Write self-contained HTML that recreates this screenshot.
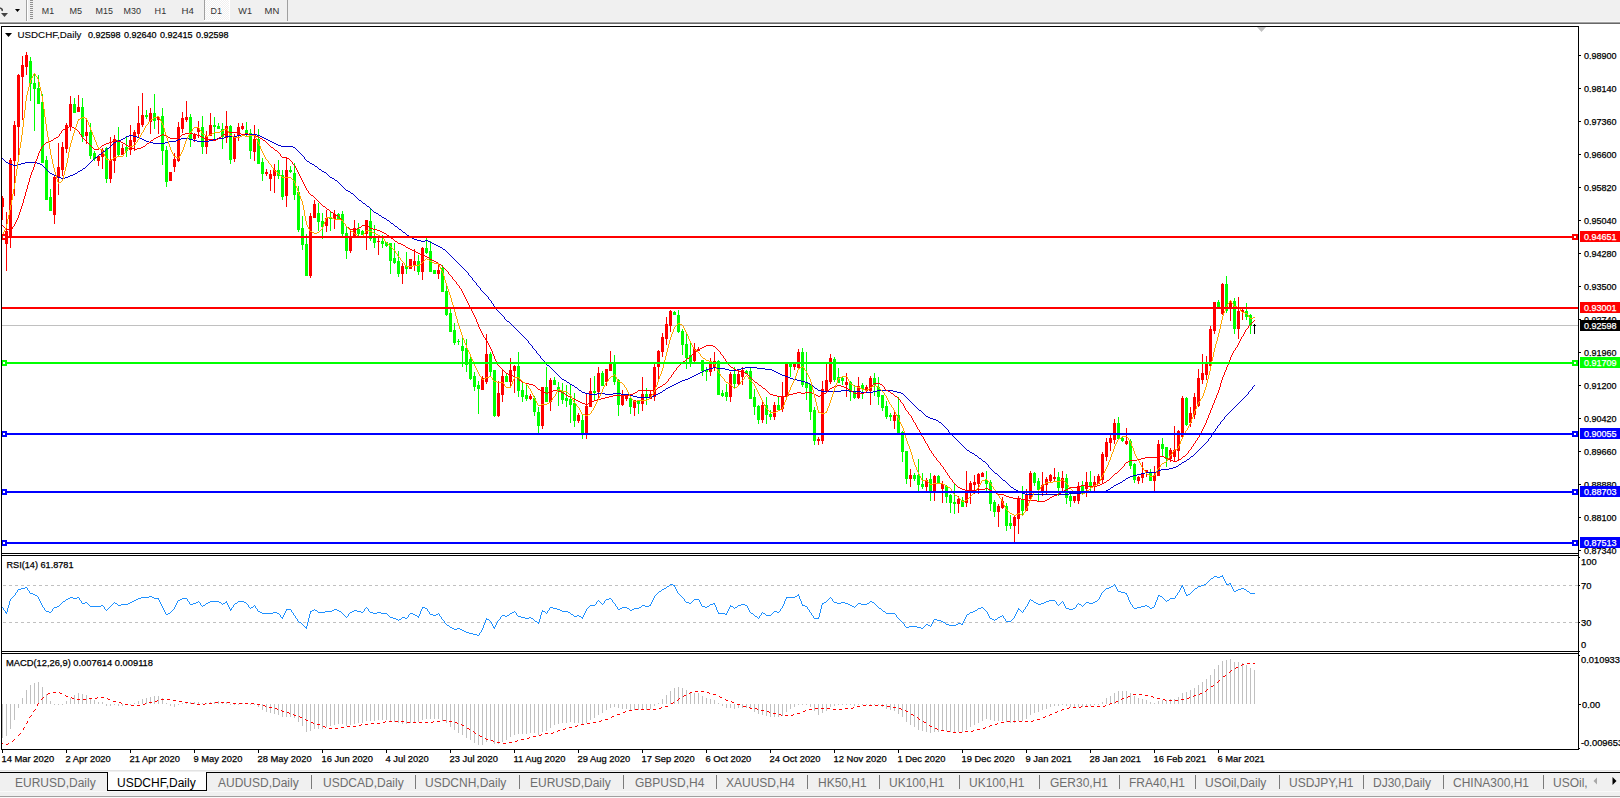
<!DOCTYPE html><html><head><meta charset="utf-8"><style>html,body{margin:0;padding:0;background:#fff;overflow:hidden}text{font-family:"Liberation Sans",sans-serif}</style></head><body><svg width="1620" height="798" viewBox="0 0 1620 798" style="display:block"><rect x="0" y="0" width="1620" height="21" fill="#f0f0f0"/><rect x="0" y="21" width="1620" height="1" fill="#f6f6f6"/><rect x="0" y="22" width="1620" height="1" fill="#a2a2a2"/><rect x="0" y="23" width="1620" height="1" fill="#686868"/><rect x="0" y="24" width="1620" height="746" fill="#ffffff"/><defs><clipPath id="cm"><rect x="2" y="27" width="1576" height="526"/></clipPath><clipPath id="cr"><rect x="2" y="556" width="1576" height="95"/></clipPath><clipPath id="cd"><rect x="2" y="654" width="1576" height="95"/></clipPath></defs><rect x="2" y="325" width="1576" height="1" fill="#c0c0c0" shape-rendering="crispEdges"/><g clip-path="url(#cm)" shape-rendering="crispEdges"><rect x="2" y="196" width="1" height="24" fill="#ff0000"/><rect x="1" y="198" width="3" height="9" fill="#ff0000"/><rect x="6" y="212" width="1" height="59" fill="#ff0000"/><rect x="5" y="231" width="3" height="13" fill="#ff0000"/><rect x="10" y="158" width="1" height="90" fill="#ff0000"/><rect x="9" y="160" width="3" height="77" fill="#ff0000"/><rect x="14" y="121" width="1" height="75" fill="#ff0000"/><rect x="13" y="125" width="3" height="36" fill="#ff0000"/><rect x="18" y="74" width="1" height="83" fill="#ff0000"/><rect x="17" y="75" width="3" height="52" fill="#ff0000"/><rect x="22" y="56" width="1" height="64" fill="#ff0000"/><rect x="21" y="65" width="3" height="12" fill="#ff0000"/><rect x="26" y="52" width="1" height="23" fill="#ff0000"/><rect x="25" y="55" width="3" height="12" fill="#ff0000"/><rect x="30" y="57" width="1" height="44" fill="#00ff00"/><rect x="29" y="61" width="3" height="23" fill="#00ff00"/><rect x="34" y="74" width="1" height="57" fill="#00ff00"/><rect x="33" y="83" width="3" height="6" fill="#00ff00"/><rect x="38" y="75" width="1" height="29" fill="#00ff00"/><rect x="37" y="88" width="3" height="16" fill="#00ff00"/><rect x="42" y="94" width="1" height="69" fill="#00ff00"/><rect x="41" y="102" width="3" height="61" fill="#00ff00"/><rect x="46" y="156" width="1" height="44" fill="#00ff00"/><rect x="45" y="160" width="3" height="40" fill="#00ff00"/><rect x="50" y="189" width="1" height="22" fill="#00ff00"/><rect x="49" y="197" width="3" height="14" fill="#00ff00"/><rect x="54" y="175" width="1" height="49" fill="#ff0000"/><rect x="53" y="177" width="3" height="38" fill="#ff0000"/><rect x="58" y="143" width="1" height="52" fill="#ff0000"/><rect x="57" y="167" width="3" height="11" fill="#ff0000"/><rect x="62" y="142" width="1" height="34" fill="#ff0000"/><rect x="61" y="147" width="3" height="23" fill="#ff0000"/><rect x="66" y="123" width="1" height="30" fill="#ff0000"/><rect x="65" y="125" width="3" height="24" fill="#ff0000"/><rect x="70" y="96" width="1" height="35" fill="#ff0000"/><rect x="69" y="104" width="3" height="23" fill="#ff0000"/><rect x="74" y="98" width="1" height="15" fill="#00ff00"/><rect x="73" y="104" width="3" height="9" fill="#00ff00"/><rect x="78" y="95" width="1" height="17" fill="#ff0000"/><rect x="77" y="107" width="3" height="5" fill="#ff0000"/><rect x="82" y="98" width="1" height="44" fill="#00ff00"/><rect x="81" y="107" width="3" height="30" fill="#00ff00"/><rect x="86" y="120" width="1" height="24" fill="#ff0000"/><rect x="85" y="132" width="3" height="4" fill="#ff0000"/><rect x="90" y="123" width="1" height="36" fill="#00ff00"/><rect x="89" y="132" width="3" height="24" fill="#00ff00"/><rect x="94" y="151" width="1" height="10" fill="#00ff00"/><rect x="93" y="153" width="3" height="6" fill="#00ff00"/><rect x="98" y="155" width="1" height="11" fill="#ff0000"/><rect x="97" y="156" width="3" height="5" fill="#ff0000"/><rect x="102" y="148" width="1" height="21" fill="#ff0000"/><rect x="101" y="150" width="3" height="7" fill="#ff0000"/><rect x="106" y="147" width="1" height="36" fill="#00ff00"/><rect x="105" y="148" width="3" height="31" fill="#00ff00"/><rect x="110" y="137" width="1" height="46" fill="#ff0000"/><rect x="109" y="160" width="3" height="19" fill="#ff0000"/><rect x="114" y="135" width="1" height="38" fill="#ff0000"/><rect x="113" y="139" width="3" height="22" fill="#ff0000"/><rect x="118" y="127" width="1" height="30" fill="#00ff00"/><rect x="117" y="140" width="3" height="15" fill="#00ff00"/><rect x="122" y="144" width="1" height="11" fill="#ff0000"/><rect x="121" y="148" width="3" height="7" fill="#ff0000"/><rect x="126" y="137" width="1" height="20" fill="#00ff00"/><rect x="125" y="147" width="3" height="4" fill="#00ff00"/><rect x="130" y="125" width="1" height="30" fill="#ff0000"/><rect x="129" y="140" width="3" height="10" fill="#ff0000"/><rect x="134" y="130" width="1" height="21" fill="#ff0000"/><rect x="133" y="132" width="3" height="10" fill="#ff0000"/><rect x="138" y="106" width="1" height="31" fill="#ff0000"/><rect x="137" y="123" width="3" height="11" fill="#ff0000"/><rect x="142" y="93" width="1" height="34" fill="#ff0000"/><rect x="141" y="115" width="3" height="10" fill="#ff0000"/><rect x="146" y="110" width="1" height="9" fill="#00ff00"/><rect x="145" y="115" width="3" height="2" fill="#00ff00"/><rect x="150" y="108" width="1" height="26" fill="#ff0000"/><rect x="149" y="113" width="3" height="9" fill="#ff0000"/><rect x="154" y="94" width="1" height="35" fill="#00ff00"/><rect x="153" y="113" width="3" height="8" fill="#00ff00"/><rect x="158" y="116" width="1" height="18" fill="#ff0000"/><rect x="157" y="117" width="3" height="3" fill="#ff0000"/><rect x="162" y="108" width="1" height="57" fill="#00ff00"/><rect x="161" y="116" width="3" height="35" fill="#00ff00"/><rect x="166" y="146" width="1" height="41" fill="#00ff00"/><rect x="165" y="150" width="3" height="32" fill="#00ff00"/><rect x="170" y="172" width="1" height="9" fill="#ff0000"/><rect x="169" y="172" width="3" height="9" fill="#ff0000"/><rect x="174" y="153" width="1" height="19" fill="#ff0000"/><rect x="173" y="159" width="3" height="8" fill="#ff0000"/><rect x="178" y="122" width="1" height="40" fill="#ff0000"/><rect x="177" y="127" width="3" height="34" fill="#ff0000"/><rect x="182" y="112" width="1" height="21" fill="#ff0000"/><rect x="181" y="118" width="3" height="11" fill="#ff0000"/><rect x="186" y="101" width="1" height="21" fill="#ff0000"/><rect x="185" y="117" width="3" height="3" fill="#ff0000"/><rect x="190" y="114" width="1" height="33" fill="#00ff00"/><rect x="189" y="117" width="3" height="22" fill="#00ff00"/><rect x="194" y="133" width="1" height="9" fill="#ff0000"/><rect x="193" y="134" width="3" height="5" fill="#ff0000"/><rect x="198" y="121" width="1" height="17" fill="#ff0000"/><rect x="197" y="128" width="3" height="4" fill="#ff0000"/><rect x="202" y="116" width="1" height="38" fill="#00ff00"/><rect x="201" y="127" width="3" height="20" fill="#00ff00"/><rect x="206" y="131" width="1" height="23" fill="#ff0000"/><rect x="205" y="136" width="3" height="11" fill="#ff0000"/><rect x="210" y="113" width="1" height="23" fill="#ff0000"/><rect x="209" y="125" width="3" height="11" fill="#ff0000"/><rect x="214" y="117" width="1" height="23" fill="#00ff00"/><rect x="213" y="125" width="3" height="2" fill="#00ff00"/><rect x="218" y="123" width="1" height="6" fill="#00ff00"/><rect x="217" y="126" width="3" height="3" fill="#00ff00"/><rect x="222" y="123" width="1" height="26" fill="#00ff00"/><rect x="221" y="129" width="3" height="8" fill="#00ff00"/><rect x="226" y="111" width="1" height="32" fill="#ff0000"/><rect x="225" y="126" width="3" height="12" fill="#ff0000"/><rect x="230" y="125" width="1" height="39" fill="#00ff00"/><rect x="229" y="126" width="3" height="34" fill="#00ff00"/><rect x="234" y="134" width="1" height="28" fill="#ff0000"/><rect x="233" y="136" width="3" height="23" fill="#ff0000"/><rect x="238" y="123" width="1" height="18" fill="#ff0000"/><rect x="237" y="127" width="3" height="8" fill="#ff0000"/><rect x="242" y="123" width="1" height="7" fill="#ff0000"/><rect x="241" y="126" width="3" height="3" fill="#ff0000"/><rect x="246" y="122" width="1" height="15" fill="#00ff00"/><rect x="245" y="130" width="3" height="4" fill="#00ff00"/><rect x="250" y="129" width="1" height="30" fill="#00ff00"/><rect x="249" y="133" width="3" height="18" fill="#00ff00"/><rect x="254" y="125" width="1" height="36" fill="#ff0000"/><rect x="253" y="139" width="3" height="13" fill="#ff0000"/><rect x="258" y="129" width="1" height="35" fill="#00ff00"/><rect x="257" y="139" width="3" height="25" fill="#00ff00"/><rect x="262" y="158" width="1" height="23" fill="#00ff00"/><rect x="261" y="162" width="3" height="12" fill="#00ff00"/><rect x="266" y="169" width="1" height="7" fill="#ff0000"/><rect x="265" y="172" width="3" height="2" fill="#ff0000"/><rect x="270" y="170" width="1" height="21" fill="#ff0000"/><rect x="269" y="174" width="3" height="5" fill="#ff0000"/><rect x="274" y="164" width="1" height="29" fill="#ff0000"/><rect x="273" y="170" width="3" height="6" fill="#ff0000"/><rect x="278" y="160" width="1" height="19" fill="#00ff00"/><rect x="277" y="170" width="3" height="6" fill="#00ff00"/><rect x="282" y="170" width="1" height="30" fill="#00ff00"/><rect x="281" y="175" width="3" height="22" fill="#00ff00"/><rect x="286" y="158" width="1" height="49" fill="#ff0000"/><rect x="285" y="170" width="3" height="26" fill="#ff0000"/><rect x="290" y="166" width="1" height="7" fill="#00ff00"/><rect x="289" y="170" width="3" height="2" fill="#00ff00"/><rect x="294" y="163" width="1" height="37" fill="#00ff00"/><rect x="293" y="173" width="3" height="22" fill="#00ff00"/><rect x="298" y="186" width="1" height="46" fill="#00ff00"/><rect x="297" y="192" width="3" height="38" fill="#00ff00"/><rect x="302" y="216" width="1" height="34" fill="#00ff00"/><rect x="301" y="228" width="3" height="17" fill="#00ff00"/><rect x="306" y="234" width="1" height="42" fill="#00ff00"/><rect x="305" y="244" width="3" height="32" fill="#00ff00"/><rect x="310" y="213" width="1" height="65" fill="#ff0000"/><rect x="309" y="216" width="3" height="60" fill="#ff0000"/><rect x="314" y="200" width="1" height="18" fill="#ff0000"/><rect x="313" y="204" width="3" height="14" fill="#ff0000"/><rect x="318" y="203" width="1" height="28" fill="#00ff00"/><rect x="317" y="213" width="3" height="9" fill="#00ff00"/><rect x="322" y="213" width="1" height="26" fill="#00ff00"/><rect x="321" y="221" width="3" height="6" fill="#00ff00"/><rect x="326" y="210" width="1" height="22" fill="#ff0000"/><rect x="325" y="218" width="3" height="8" fill="#ff0000"/><rect x="330" y="212" width="1" height="19" fill="#00ff00"/><rect x="329" y="218" width="3" height="1" fill="#00ff00"/><rect x="334" y="210" width="1" height="19" fill="#ff0000"/><rect x="333" y="214" width="3" height="5" fill="#ff0000"/><rect x="338" y="213" width="1" height="6" fill="#00ff00"/><rect x="337" y="214" width="3" height="5" fill="#00ff00"/><rect x="342" y="211" width="1" height="26" fill="#00ff00"/><rect x="341" y="214" width="3" height="20" fill="#00ff00"/><rect x="346" y="227" width="1" height="32" fill="#00ff00"/><rect x="345" y="233" width="3" height="18" fill="#00ff00"/><rect x="350" y="230" width="1" height="23" fill="#ff0000"/><rect x="349" y="236" width="3" height="15" fill="#ff0000"/><rect x="354" y="220" width="1" height="17" fill="#ff0000"/><rect x="353" y="228" width="3" height="9" fill="#ff0000"/><rect x="358" y="223" width="1" height="13" fill="#00ff00"/><rect x="357" y="229" width="3" height="5" fill="#00ff00"/><rect x="362" y="230" width="1" height="5" fill="#00ff00"/><rect x="361" y="231" width="3" height="4" fill="#00ff00"/><rect x="366" y="220" width="1" height="30" fill="#ff0000"/><rect x="365" y="220" width="3" height="14" fill="#ff0000"/><rect x="370" y="209" width="1" height="32" fill="#00ff00"/><rect x="369" y="221" width="3" height="18" fill="#00ff00"/><rect x="374" y="225" width="1" height="23" fill="#00ff00"/><rect x="373" y="236" width="3" height="7" fill="#00ff00"/><rect x="378" y="236" width="1" height="19" fill="#ff0000"/><rect x="377" y="241" width="3" height="1" fill="#ff0000"/><rect x="382" y="235" width="1" height="13" fill="#00ff00"/><rect x="381" y="241" width="3" height="3" fill="#00ff00"/><rect x="386" y="242" width="1" height="5" fill="#00ff00"/><rect x="385" y="242" width="3" height="4" fill="#00ff00"/><rect x="390" y="243" width="1" height="31" fill="#00ff00"/><rect x="389" y="243" width="3" height="18" fill="#00ff00"/><rect x="394" y="243" width="1" height="21" fill="#00ff00"/><rect x="393" y="258" width="3" height="5" fill="#00ff00"/><rect x="398" y="251" width="1" height="26" fill="#00ff00"/><rect x="397" y="261" width="3" height="13" fill="#00ff00"/><rect x="402" y="263" width="1" height="21" fill="#ff0000"/><rect x="401" y="266" width="3" height="8" fill="#ff0000"/><rect x="406" y="252" width="1" height="22" fill="#00ff00"/><rect x="405" y="266" width="3" height="3" fill="#00ff00"/><rect x="410" y="259" width="1" height="10" fill="#ff0000"/><rect x="409" y="259" width="3" height="10" fill="#ff0000"/><rect x="414" y="249" width="1" height="22" fill="#ff0000"/><rect x="413" y="261" width="3" height="5" fill="#ff0000"/><rect x="418" y="255" width="1" height="20" fill="#00ff00"/><rect x="417" y="261" width="3" height="11" fill="#00ff00"/><rect x="422" y="247" width="1" height="33" fill="#ff0000"/><rect x="421" y="248" width="3" height="24" fill="#ff0000"/><rect x="426" y="238" width="1" height="16" fill="#00ff00"/><rect x="425" y="248" width="3" height="5" fill="#00ff00"/><rect x="430" y="241" width="1" height="31" fill="#00ff00"/><rect x="429" y="251" width="3" height="21" fill="#00ff00"/><rect x="434" y="270" width="1" height="4" fill="#00ff00"/><rect x="433" y="270" width="3" height="4" fill="#00ff00"/><rect x="438" y="263" width="1" height="16" fill="#ff0000"/><rect x="437" y="270" width="3" height="4" fill="#ff0000"/><rect x="442" y="265" width="1" height="27" fill="#00ff00"/><rect x="441" y="268" width="3" height="24" fill="#00ff00"/><rect x="446" y="286" width="1" height="30" fill="#00ff00"/><rect x="445" y="291" width="3" height="24" fill="#00ff00"/><rect x="450" y="309" width="1" height="23" fill="#00ff00"/><rect x="449" y="313" width="3" height="19" fill="#00ff00"/><rect x="454" y="323" width="1" height="22" fill="#00ff00"/><rect x="453" y="330" width="3" height="13" fill="#00ff00"/><rect x="458" y="339" width="1" height="6" fill="#00ff00"/><rect x="457" y="341" width="3" height="1" fill="#00ff00"/><rect x="462" y="338" width="1" height="29" fill="#00ff00"/><rect x="461" y="346" width="3" height="5" fill="#00ff00"/><rect x="466" y="339" width="1" height="33" fill="#00ff00"/><rect x="465" y="348" width="3" height="17" fill="#00ff00"/><rect x="470" y="356" width="1" height="24" fill="#00ff00"/><rect x="469" y="359" width="3" height="20" fill="#00ff00"/><rect x="474" y="372" width="1" height="19" fill="#00ff00"/><rect x="473" y="376" width="3" height="11" fill="#00ff00"/><rect x="478" y="381" width="1" height="33" fill="#00ff00"/><rect x="477" y="385" width="3" height="4" fill="#00ff00"/><rect x="482" y="376" width="1" height="14" fill="#ff0000"/><rect x="481" y="378" width="3" height="12" fill="#ff0000"/><rect x="486" y="334" width="1" height="50" fill="#ff0000"/><rect x="485" y="354" width="3" height="28" fill="#ff0000"/><rect x="490" y="352" width="1" height="24" fill="#00ff00"/><rect x="489" y="354" width="3" height="18" fill="#00ff00"/><rect x="494" y="370" width="1" height="47" fill="#00ff00"/><rect x="493" y="370" width="3" height="46" fill="#00ff00"/><rect x="498" y="381" width="1" height="36" fill="#ff0000"/><rect x="497" y="393" width="3" height="23" fill="#ff0000"/><rect x="502" y="370" width="1" height="32" fill="#ff0000"/><rect x="501" y="376" width="3" height="19" fill="#ff0000"/><rect x="506" y="373" width="1" height="9" fill="#00ff00"/><rect x="505" y="376" width="3" height="6" fill="#00ff00"/><rect x="510" y="358" width="1" height="28" fill="#ff0000"/><rect x="509" y="370" width="3" height="12" fill="#ff0000"/><rect x="514" y="365" width="1" height="28" fill="#ff0000"/><rect x="513" y="366" width="3" height="5" fill="#ff0000"/><rect x="518" y="352" width="1" height="45" fill="#00ff00"/><rect x="517" y="366" width="3" height="25" fill="#00ff00"/><rect x="522" y="383" width="1" height="19" fill="#00ff00"/><rect x="521" y="390" width="3" height="7" fill="#00ff00"/><rect x="526" y="384" width="1" height="17" fill="#00ff00"/><rect x="525" y="395" width="3" height="4" fill="#00ff00"/><rect x="530" y="394" width="1" height="6" fill="#ff0000"/><rect x="529" y="396" width="3" height="3" fill="#ff0000"/><rect x="534" y="396" width="1" height="20" fill="#00ff00"/><rect x="533" y="398" width="3" height="14" fill="#00ff00"/><rect x="538" y="407" width="1" height="27" fill="#00ff00"/><rect x="537" y="412" width="3" height="14" fill="#00ff00"/><rect x="542" y="387" width="1" height="42" fill="#ff0000"/><rect x="541" y="387" width="3" height="39" fill="#ff0000"/><rect x="546" y="367" width="1" height="35" fill="#00ff00"/><rect x="545" y="387" width="3" height="15" fill="#00ff00"/><rect x="550" y="378" width="1" height="33" fill="#ff0000"/><rect x="549" y="380" width="3" height="22" fill="#ff0000"/><rect x="554" y="377" width="1" height="8" fill="#00ff00"/><rect x="553" y="380" width="3" height="5" fill="#00ff00"/><rect x="558" y="382" width="1" height="24" fill="#00ff00"/><rect x="557" y="387" width="3" height="4" fill="#00ff00"/><rect x="562" y="383" width="1" height="21" fill="#00ff00"/><rect x="561" y="391" width="3" height="9" fill="#00ff00"/><rect x="566" y="385" width="1" height="22" fill="#00ff00"/><rect x="565" y="398" width="3" height="3" fill="#00ff00"/><rect x="570" y="384" width="1" height="39" fill="#00ff00"/><rect x="569" y="399" width="3" height="6" fill="#00ff00"/><rect x="574" y="393" width="1" height="34" fill="#00ff00"/><rect x="573" y="403" width="3" height="18" fill="#00ff00"/><rect x="578" y="413" width="1" height="10" fill="#ff0000"/><rect x="577" y="415" width="3" height="6" fill="#ff0000"/><rect x="582" y="415" width="1" height="24" fill="#00ff00"/><rect x="581" y="420" width="3" height="13" fill="#00ff00"/><rect x="586" y="394" width="1" height="45" fill="#ff0000"/><rect x="585" y="406" width="3" height="27" fill="#ff0000"/><rect x="590" y="378" width="1" height="29" fill="#ff0000"/><rect x="589" y="391" width="3" height="16" fill="#ff0000"/><rect x="594" y="376" width="1" height="25" fill="#00ff00"/><rect x="593" y="391" width="3" height="2" fill="#00ff00"/><rect x="598" y="367" width="1" height="32" fill="#ff0000"/><rect x="597" y="373" width="3" height="19" fill="#ff0000"/><rect x="602" y="371" width="1" height="15" fill="#00ff00"/><rect x="601" y="373" width="3" height="13" fill="#00ff00"/><rect x="606" y="369" width="1" height="17" fill="#ff0000"/><rect x="605" y="369" width="3" height="13" fill="#ff0000"/><rect x="610" y="351" width="1" height="20" fill="#ff0000"/><rect x="609" y="364" width="3" height="7" fill="#ff0000"/><rect x="614" y="355" width="1" height="30" fill="#00ff00"/><rect x="613" y="364" width="3" height="18" fill="#00ff00"/><rect x="618" y="379" width="1" height="37" fill="#00ff00"/><rect x="617" y="380" width="3" height="25" fill="#00ff00"/><rect x="622" y="390" width="1" height="16" fill="#ff0000"/><rect x="621" y="396" width="3" height="9" fill="#ff0000"/><rect x="626" y="395" width="1" height="6" fill="#ff0000"/><rect x="625" y="396" width="3" height="3" fill="#ff0000"/><rect x="630" y="396" width="1" height="18" fill="#00ff00"/><rect x="629" y="398" width="3" height="9" fill="#00ff00"/><rect x="634" y="400" width="1" height="16" fill="#ff0000"/><rect x="633" y="400" width="3" height="8" fill="#ff0000"/><rect x="638" y="400" width="1" height="14" fill="#00ff00"/><rect x="637" y="401" width="3" height="3" fill="#00ff00"/><rect x="642" y="377" width="1" height="34" fill="#ff0000"/><rect x="641" y="394" width="3" height="10" fill="#ff0000"/><rect x="646" y="388" width="1" height="17" fill="#00ff00"/><rect x="645" y="394" width="3" height="3" fill="#00ff00"/><rect x="650" y="390" width="1" height="9" fill="#ff0000"/><rect x="649" y="394" width="3" height="5" fill="#ff0000"/><rect x="654" y="364" width="1" height="37" fill="#ff0000"/><rect x="653" y="367" width="3" height="30" fill="#ff0000"/><rect x="658" y="350" width="1" height="30" fill="#ff0000"/><rect x="657" y="351" width="3" height="16" fill="#ff0000"/><rect x="662" y="333" width="1" height="24" fill="#ff0000"/><rect x="661" y="337" width="3" height="15" fill="#ff0000"/><rect x="666" y="317" width="1" height="28" fill="#ff0000"/><rect x="665" y="324" width="3" height="15" fill="#ff0000"/><rect x="670" y="310" width="1" height="22" fill="#ff0000"/><rect x="669" y="311" width="3" height="15" fill="#ff0000"/><rect x="674" y="311" width="1" height="4" fill="#00ff00"/><rect x="673" y="312" width="3" height="3" fill="#00ff00"/><rect x="678" y="310" width="1" height="23" fill="#00ff00"/><rect x="677" y="315" width="3" height="17" fill="#00ff00"/><rect x="682" y="329" width="1" height="26" fill="#00ff00"/><rect x="681" y="331" width="3" height="14" fill="#00ff00"/><rect x="686" y="333" width="1" height="36" fill="#00ff00"/><rect x="685" y="344" width="3" height="14" fill="#00ff00"/><rect x="690" y="342" width="1" height="25" fill="#00ff00"/><rect x="689" y="355" width="3" height="7" fill="#00ff00"/><rect x="694" y="343" width="1" height="19" fill="#ff0000"/><rect x="693" y="349" width="3" height="12" fill="#ff0000"/><rect x="698" y="347" width="1" height="4" fill="#ff0000"/><rect x="697" y="349" width="3" height="2" fill="#ff0000"/><rect x="702" y="360" width="1" height="16" fill="#00ff00"/><rect x="701" y="360" width="3" height="11" fill="#00ff00"/><rect x="706" y="367" width="1" height="14" fill="#00ff00"/><rect x="705" y="370" width="3" height="2" fill="#00ff00"/><rect x="710" y="358" width="1" height="18" fill="#ff0000"/><rect x="709" y="364" width="3" height="8" fill="#ff0000"/><rect x="714" y="352" width="1" height="19" fill="#ff0000"/><rect x="713" y="361" width="3" height="6" fill="#ff0000"/><rect x="718" y="360" width="1" height="35" fill="#00ff00"/><rect x="717" y="361" width="3" height="34" fill="#00ff00"/><rect x="722" y="390" width="1" height="7" fill="#00ff00"/><rect x="721" y="393" width="3" height="3" fill="#00ff00"/><rect x="726" y="384" width="1" height="17" fill="#00ff00"/><rect x="725" y="392" width="3" height="5" fill="#00ff00"/><rect x="730" y="372" width="1" height="30" fill="#ff0000"/><rect x="729" y="374" width="3" height="23" fill="#ff0000"/><rect x="734" y="367" width="1" height="22" fill="#00ff00"/><rect x="733" y="374" width="3" height="10" fill="#00ff00"/><rect x="738" y="370" width="1" height="15" fill="#ff0000"/><rect x="737" y="374" width="3" height="10" fill="#ff0000"/><rect x="742" y="367" width="1" height="18" fill="#ff0000"/><rect x="741" y="370" width="3" height="7" fill="#ff0000"/><rect x="746" y="370" width="1" height="4" fill="#00ff00"/><rect x="745" y="371" width="3" height="3" fill="#00ff00"/><rect x="750" y="367" width="1" height="32" fill="#00ff00"/><rect x="749" y="371" width="3" height="28" fill="#00ff00"/><rect x="754" y="389" width="1" height="26" fill="#00ff00"/><rect x="753" y="397" width="3" height="10" fill="#00ff00"/><rect x="758" y="405" width="1" height="19" fill="#00ff00"/><rect x="757" y="406" width="3" height="14" fill="#00ff00"/><rect x="762" y="402" width="1" height="21" fill="#ff0000"/><rect x="761" y="405" width="3" height="15" fill="#ff0000"/><rect x="766" y="397" width="1" height="27" fill="#00ff00"/><rect x="765" y="405" width="3" height="10" fill="#00ff00"/><rect x="770" y="410" width="1" height="10" fill="#00ff00"/><rect x="769" y="414" width="3" height="3" fill="#00ff00"/><rect x="774" y="402" width="1" height="18" fill="#ff0000"/><rect x="773" y="405" width="3" height="12" fill="#ff0000"/><rect x="778" y="396" width="1" height="15" fill="#00ff00"/><rect x="777" y="405" width="3" height="5" fill="#00ff00"/><rect x="782" y="382" width="1" height="30" fill="#ff0000"/><rect x="781" y="396" width="3" height="13" fill="#ff0000"/><rect x="786" y="364" width="1" height="33" fill="#ff0000"/><rect x="785" y="364" width="3" height="33" fill="#ff0000"/><rect x="790" y="363" width="1" height="14" fill="#00ff00"/><rect x="789" y="364" width="3" height="3" fill="#00ff00"/><rect x="794" y="363" width="1" height="7" fill="#ff0000"/><rect x="793" y="364" width="3" height="3" fill="#ff0000"/><rect x="798" y="349" width="1" height="19" fill="#ff0000"/><rect x="797" y="352" width="3" height="16" fill="#ff0000"/><rect x="802" y="348" width="1" height="39" fill="#00ff00"/><rect x="801" y="352" width="3" height="33" fill="#00ff00"/><rect x="806" y="352" width="1" height="48" fill="#00ff00"/><rect x="805" y="382" width="3" height="6" fill="#00ff00"/><rect x="810" y="384" width="1" height="36" fill="#00ff00"/><rect x="809" y="384" width="3" height="28" fill="#00ff00"/><rect x="814" y="407" width="1" height="38" fill="#00ff00"/><rect x="813" y="410" width="3" height="31" fill="#00ff00"/><rect x="818" y="437" width="1" height="8" fill="#ff0000"/><rect x="817" y="439" width="3" height="2" fill="#ff0000"/><rect x="822" y="381" width="1" height="63" fill="#ff0000"/><rect x="821" y="389" width="3" height="52" fill="#ff0000"/><rect x="826" y="364" width="1" height="27" fill="#ff0000"/><rect x="825" y="380" width="3" height="11" fill="#ff0000"/><rect x="830" y="354" width="1" height="30" fill="#ff0000"/><rect x="829" y="358" width="3" height="24" fill="#ff0000"/><rect x="834" y="357" width="1" height="25" fill="#00ff00"/><rect x="833" y="359" width="3" height="21" fill="#00ff00"/><rect x="838" y="368" width="1" height="15" fill="#00ff00"/><rect x="837" y="377" width="3" height="6" fill="#00ff00"/><rect x="842" y="377" width="1" height="8" fill="#00ff00"/><rect x="841" y="378" width="3" height="3" fill="#00ff00"/><rect x="846" y="373" width="1" height="24" fill="#ff0000"/><rect x="845" y="382" width="3" height="3" fill="#ff0000"/><rect x="850" y="381" width="1" height="20" fill="#00ff00"/><rect x="849" y="382" width="3" height="10" fill="#00ff00"/><rect x="854" y="385" width="1" height="14" fill="#00ff00"/><rect x="853" y="391" width="3" height="7" fill="#00ff00"/><rect x="858" y="377" width="1" height="22" fill="#ff0000"/><rect x="857" y="386" width="3" height="12" fill="#ff0000"/><rect x="862" y="383" width="1" height="16" fill="#00ff00"/><rect x="861" y="385" width="3" height="4" fill="#00ff00"/><rect x="866" y="385" width="1" height="6" fill="#ff0000"/><rect x="865" y="387" width="3" height="3" fill="#ff0000"/><rect x="870" y="376" width="1" height="29" fill="#ff0000"/><rect x="869" y="378" width="3" height="13" fill="#ff0000"/><rect x="874" y="373" width="1" height="23" fill="#00ff00"/><rect x="873" y="378" width="3" height="7" fill="#00ff00"/><rect x="878" y="377" width="1" height="28" fill="#00ff00"/><rect x="877" y="387" width="3" height="10" fill="#00ff00"/><rect x="882" y="395" width="1" height="16" fill="#00ff00"/><rect x="881" y="395" width="3" height="13" fill="#00ff00"/><rect x="886" y="401" width="1" height="18" fill="#00ff00"/><rect x="885" y="406" width="3" height="11" fill="#00ff00"/><rect x="890" y="413" width="1" height="8" fill="#00ff00"/><rect x="889" y="415" width="3" height="2" fill="#00ff00"/><rect x="894" y="410" width="1" height="19" fill="#ff0000"/><rect x="893" y="415" width="3" height="6" fill="#ff0000"/><rect x="898" y="397" width="1" height="37" fill="#00ff00"/><rect x="897" y="415" width="3" height="19" fill="#00ff00"/><rect x="902" y="431" width="1" height="31" fill="#00ff00"/><rect x="901" y="432" width="3" height="20" fill="#00ff00"/><rect x="906" y="451" width="1" height="33" fill="#00ff00"/><rect x="905" y="451" width="3" height="28" fill="#00ff00"/><rect x="910" y="469" width="1" height="18" fill="#ff0000"/><rect x="909" y="475" width="3" height="4" fill="#ff0000"/><rect x="914" y="473" width="1" height="8" fill="#00ff00"/><rect x="913" y="475" width="3" height="4" fill="#00ff00"/><rect x="918" y="459" width="1" height="32" fill="#00ff00"/><rect x="917" y="475" width="3" height="10" fill="#00ff00"/><rect x="922" y="473" width="1" height="16" fill="#00ff00"/><rect x="921" y="484" width="3" height="3" fill="#00ff00"/><rect x="926" y="478" width="1" height="14" fill="#ff0000"/><rect x="925" y="480" width="3" height="7" fill="#ff0000"/><rect x="930" y="473" width="1" height="28" fill="#00ff00"/><rect x="929" y="479" width="3" height="13" fill="#00ff00"/><rect x="934" y="475" width="1" height="26" fill="#ff0000"/><rect x="933" y="476" width="3" height="16" fill="#ff0000"/><rect x="938" y="475" width="1" height="8" fill="#00ff00"/><rect x="937" y="476" width="3" height="7" fill="#00ff00"/><rect x="942" y="481" width="1" height="22" fill="#ff0000"/><rect x="941" y="484" width="3" height="5" fill="#ff0000"/><rect x="946" y="485" width="1" height="18" fill="#00ff00"/><rect x="945" y="486" width="3" height="11" fill="#00ff00"/><rect x="950" y="494" width="1" height="19" fill="#00ff00"/><rect x="949" y="495" width="3" height="8" fill="#00ff00"/><rect x="954" y="484" width="1" height="30" fill="#00ff00"/><rect x="953" y="502" width="3" height="2" fill="#00ff00"/><rect x="958" y="496" width="1" height="17" fill="#ff0000"/><rect x="957" y="499" width="3" height="5" fill="#ff0000"/><rect x="962" y="497" width="1" height="10" fill="#00ff00"/><rect x="961" y="500" width="3" height="7" fill="#00ff00"/><rect x="966" y="471" width="1" height="36" fill="#ff0000"/><rect x="965" y="490" width="3" height="13" fill="#ff0000"/><rect x="970" y="481" width="1" height="23" fill="#ff0000"/><rect x="969" y="483" width="3" height="9" fill="#ff0000"/><rect x="974" y="475" width="1" height="19" fill="#ff0000"/><rect x="973" y="482" width="3" height="3" fill="#ff0000"/><rect x="978" y="473" width="1" height="21" fill="#ff0000"/><rect x="977" y="474" width="3" height="10" fill="#ff0000"/><rect x="982" y="472" width="1" height="5" fill="#ff0000"/><rect x="981" y="473" width="3" height="4" fill="#ff0000"/><rect x="986" y="471" width="1" height="20" fill="#00ff00"/><rect x="985" y="480" width="3" height="4" fill="#00ff00"/><rect x="990" y="480" width="1" height="31" fill="#00ff00"/><rect x="989" y="482" width="3" height="22" fill="#00ff00"/><rect x="994" y="500" width="1" height="17" fill="#00ff00"/><rect x="993" y="502" width="3" height="10" fill="#00ff00"/><rect x="998" y="504" width="1" height="23" fill="#ff0000"/><rect x="997" y="506" width="3" height="6" fill="#ff0000"/><rect x="1002" y="497" width="1" height="12" fill="#ff0000"/><rect x="1001" y="501" width="3" height="7" fill="#ff0000"/><rect x="1006" y="503" width="1" height="28" fill="#00ff00"/><rect x="1005" y="506" width="3" height="20" fill="#00ff00"/><rect x="1010" y="515" width="1" height="14" fill="#00ff00"/><rect x="1009" y="523" width="3" height="3" fill="#00ff00"/><rect x="1014" y="516" width="1" height="26" fill="#ff0000"/><rect x="1013" y="517" width="3" height="9" fill="#ff0000"/><rect x="1018" y="496" width="1" height="38" fill="#ff0000"/><rect x="1017" y="498" width="3" height="21" fill="#ff0000"/><rect x="1022" y="486" width="1" height="29" fill="#00ff00"/><rect x="1021" y="500" width="3" height="11" fill="#00ff00"/><rect x="1026" y="489" width="1" height="22" fill="#ff0000"/><rect x="1025" y="494" width="3" height="17" fill="#ff0000"/><rect x="1030" y="471" width="1" height="28" fill="#ff0000"/><rect x="1029" y="473" width="3" height="26" fill="#ff0000"/><rect x="1034" y="472" width="1" height="14" fill="#00ff00"/><rect x="1033" y="473" width="3" height="10" fill="#00ff00"/><rect x="1038" y="478" width="1" height="24" fill="#00ff00"/><rect x="1037" y="481" width="3" height="9" fill="#00ff00"/><rect x="1042" y="472" width="1" height="24" fill="#ff0000"/><rect x="1041" y="485" width="3" height="6" fill="#ff0000"/><rect x="1046" y="477" width="1" height="18" fill="#ff0000"/><rect x="1045" y="479" width="3" height="6" fill="#ff0000"/><rect x="1050" y="474" width="1" height="9" fill="#ff0000"/><rect x="1049" y="475" width="3" height="6" fill="#ff0000"/><rect x="1054" y="468" width="1" height="13" fill="#ff0000"/><rect x="1053" y="477" width="3" height="2" fill="#ff0000"/><rect x="1058" y="472" width="1" height="24" fill="#00ff00"/><rect x="1057" y="477" width="3" height="11" fill="#00ff00"/><rect x="1062" y="471" width="1" height="21" fill="#ff0000"/><rect x="1061" y="478" width="3" height="10" fill="#ff0000"/><rect x="1066" y="474" width="1" height="30" fill="#00ff00"/><rect x="1065" y="478" width="3" height="20" fill="#00ff00"/><rect x="1070" y="493" width="1" height="14" fill="#00ff00"/><rect x="1069" y="496" width="3" height="5" fill="#00ff00"/><rect x="1074" y="496" width="1" height="7" fill="#ff0000"/><rect x="1073" y="496" width="3" height="5" fill="#ff0000"/><rect x="1078" y="482" width="1" height="22" fill="#ff0000"/><rect x="1077" y="486" width="3" height="15" fill="#ff0000"/><rect x="1082" y="481" width="1" height="13" fill="#00ff00"/><rect x="1081" y="486" width="3" height="6" fill="#00ff00"/><rect x="1086" y="472" width="1" height="25" fill="#ff0000"/><rect x="1085" y="482" width="3" height="7" fill="#ff0000"/><rect x="1090" y="471" width="1" height="21" fill="#00ff00"/><rect x="1089" y="482" width="3" height="4" fill="#00ff00"/><rect x="1094" y="476" width="1" height="16" fill="#ff0000"/><rect x="1093" y="482" width="3" height="5" fill="#ff0000"/><rect x="1098" y="474" width="1" height="10" fill="#ff0000"/><rect x="1097" y="476" width="3" height="8" fill="#ff0000"/><rect x="1102" y="452" width="1" height="32" fill="#ff0000"/><rect x="1101" y="454" width="3" height="26" fill="#ff0000"/><rect x="1106" y="438" width="1" height="23" fill="#ff0000"/><rect x="1105" y="442" width="3" height="15" fill="#ff0000"/><rect x="1110" y="435" width="1" height="16" fill="#ff0000"/><rect x="1109" y="438" width="3" height="5" fill="#ff0000"/><rect x="1114" y="419" width="1" height="25" fill="#ff0000"/><rect x="1113" y="423" width="3" height="17" fill="#ff0000"/><rect x="1118" y="417" width="1" height="22" fill="#00ff00"/><rect x="1117" y="423" width="3" height="16" fill="#00ff00"/><rect x="1122" y="436" width="1" height="6" fill="#00ff00"/><rect x="1121" y="438" width="3" height="3" fill="#00ff00"/><rect x="1126" y="428" width="1" height="17" fill="#ff0000"/><rect x="1125" y="441" width="3" height="3" fill="#ff0000"/><rect x="1130" y="439" width="1" height="30" fill="#00ff00"/><rect x="1129" y="441" width="3" height="25" fill="#00ff00"/><rect x="1134" y="463" width="1" height="20" fill="#00ff00"/><rect x="1133" y="464" width="3" height="16" fill="#00ff00"/><rect x="1138" y="476" width="1" height="8" fill="#ff0000"/><rect x="1137" y="477" width="3" height="4" fill="#ff0000"/><rect x="1142" y="462" width="1" height="21" fill="#ff0000"/><rect x="1141" y="473" width="3" height="5" fill="#ff0000"/><rect x="1146" y="470" width="1" height="7" fill="#ff0000"/><rect x="1145" y="470" width="3" height="3" fill="#ff0000"/><rect x="1150" y="469" width="1" height="12" fill="#00ff00"/><rect x="1149" y="472" width="3" height="9" fill="#00ff00"/><rect x="1154" y="466" width="1" height="26" fill="#ff0000"/><rect x="1153" y="475" width="3" height="6" fill="#ff0000"/><rect x="1158" y="440" width="1" height="36" fill="#ff0000"/><rect x="1157" y="444" width="3" height="32" fill="#ff0000"/><rect x="1162" y="438" width="1" height="19" fill="#00ff00"/><rect x="1161" y="444" width="3" height="5" fill="#00ff00"/><rect x="1166" y="447" width="1" height="20" fill="#00ff00"/><rect x="1165" y="447" width="3" height="12" fill="#00ff00"/><rect x="1170" y="448" width="1" height="14" fill="#ff0000"/><rect x="1169" y="450" width="3" height="9" fill="#ff0000"/><rect x="1174" y="426" width="1" height="35" fill="#ff0000"/><rect x="1173" y="450" width="3" height="7" fill="#ff0000"/><rect x="1178" y="430" width="1" height="30" fill="#ff0000"/><rect x="1177" y="431" width="3" height="20" fill="#ff0000"/><rect x="1182" y="396" width="1" height="43" fill="#ff0000"/><rect x="1181" y="398" width="3" height="39" fill="#ff0000"/><rect x="1186" y="397" width="1" height="29" fill="#00ff00"/><rect x="1185" y="398" width="3" height="27" fill="#00ff00"/><rect x="1190" y="407" width="1" height="20" fill="#ff0000"/><rect x="1189" y="413" width="3" height="10" fill="#ff0000"/><rect x="1194" y="393" width="1" height="26" fill="#ff0000"/><rect x="1193" y="397" width="3" height="18" fill="#ff0000"/><rect x="1198" y="369" width="1" height="38" fill="#ff0000"/><rect x="1197" y="378" width="3" height="28" fill="#ff0000"/><rect x="1202" y="354" width="1" height="30" fill="#ff0000"/><rect x="1201" y="373" width="3" height="7" fill="#ff0000"/><rect x="1206" y="356" width="1" height="24" fill="#ff0000"/><rect x="1205" y="364" width="3" height="11" fill="#ff0000"/><rect x="1210" y="326" width="1" height="41" fill="#ff0000"/><rect x="1209" y="329" width="3" height="37" fill="#ff0000"/><rect x="1214" y="302" width="1" height="32" fill="#ff0000"/><rect x="1213" y="302" width="3" height="29" fill="#ff0000"/><rect x="1218" y="300" width="1" height="8" fill="#00ff00"/><rect x="1217" y="302" width="3" height="5" fill="#00ff00"/><rect x="1222" y="283" width="1" height="32" fill="#ff0000"/><rect x="1221" y="284" width="3" height="30" fill="#ff0000"/><rect x="1226" y="276" width="1" height="37" fill="#00ff00"/><rect x="1225" y="284" width="3" height="27" fill="#00ff00"/><rect x="1230" y="301" width="1" height="20" fill="#ff0000"/><rect x="1229" y="301" width="3" height="8" fill="#ff0000"/><rect x="1234" y="298" width="1" height="36" fill="#00ff00"/><rect x="1233" y="301" width="3" height="28" fill="#00ff00"/><rect x="1238" y="297" width="1" height="42" fill="#ff0000"/><rect x="1237" y="311" width="3" height="18" fill="#ff0000"/><rect x="1242" y="309" width="1" height="11" fill="#ff0000"/><rect x="1241" y="310" width="3" height="2" fill="#ff0000"/><rect x="1246" y="303" width="1" height="17" fill="#00ff00"/><rect x="1245" y="311" width="3" height="6" fill="#00ff00"/><rect x="1250" y="314" width="1" height="20" fill="#00ff00"/><rect x="1249" y="315" width="3" height="11" fill="#00ff00"/><rect x="1254" y="324" width="1" height="10" fill="#000000"/><rect x="1253" y="325" width="3" height="1" fill="#000000"/></g><path d="M821 391h20v1h-20zM849 391h12v1h-12zM873 391h4v1h-4zM893 391h4v1h-4zM1145 472h11v1h-11zM692 376h2v1h-2zM785 376h3v1h-3zM95 157h2v1h-2zM126 136h3v1h-3zM133 136h4v1h-4zM226 136h11v1h-11zM260 136h2v1h-2zM1022 493h3v1h-3zM1069 493h12v1h-12zM585 393h4v1h-4zM597 393h8v1h-8zM613 393h8v1h-8zM658 393h2v1h-2zM901 393h2v1h-2zM1176 466h2v1h-2zM572 385h2v1h-2zM672 385h2v1h-2zM811 385h2v1h-2zM1137 474h4v1h-4zM123 138h2v1h-2zM140 138h2v1h-2zM181 138h8v1h-8zM217 138h7v1h-7zM264 138h2v1h-2zM1182 462h2v1h-2zM1169 468h4v1h-4zM421 241h4v1h-4zM428 241h2v1h-2zM582 392h3v1h-3zM660 392h2v1h-2zM861 392h12v1h-12zM897 392h4v1h-4zM1161 469h8v1h-8zM930 418h3v1h-3zM116 141h2v1h-2zM146 141h3v1h-3zM169 141h7v1h-7zM197 141h12v1h-12zM270 141h2v1h-2zM1126 478h2v1h-2zM118 140h3v1h-3zM144 140h2v1h-2zM176 140h2v1h-2zM193 140h4v1h-4zM209 140h4v1h-4zM268 140h2v1h-2zM387 220h2v1h-2zM579 390h2v1h-2zM663 390h2v1h-2zM818 390h3v1h-3zM841 390h8v1h-8zM877 390h16v1h-16zM54 175h2v1h-2zM70 175h3v1h-3zM704 370h2v1h-2zM729 370h8v1h-8zM772 370h2v1h-2zM713 367h4v1h-4zM745 367h12v1h-12zM939 422h2v1h-2zM1187 459h2v1h-2zM1016 490h2v1h-2zM1106 490h2v1h-2zM1003 480h2v1h-2zM1123 480h2v1h-2zM589 394h8v1h-8zM605 394h8v1h-8zM621 394h8v1h-8zM656 394h2v1h-2zM637 397h15v1h-15zM376 213h2v1h-2zM395 226h2v1h-2zM575 387h2v1h-2zM668 387h2v1h-2zM346 190h2v1h-2zM335 180h2v1h-2zM676 383h2v1h-2zM808 383h2v1h-2zM307 161h2v1h-2zM276 144h2v1h-2zM281 146h12v1h-12zM61 178h4v1h-4zM332 178h2v1h-2zM153 143h12v1h-12zM274 143h2v1h-2zM121 139h2v1h-2zM142 139h2v1h-2zM178 139h3v1h-3zM189 139h4v1h-4zM213 139h4v1h-4zM266 139h2v1h-2zM1014 489h2v1h-2zM1108 489h2v1h-2zM975 455h2v1h-2zM1179 464h2v1h-2zM1191 456h2v1h-2zM700 372h2v1h-2zM776 372h2v1h-2zM414 239h3v1h-3zM1020 492h2v1h-2zM1081 492h23v1h-23zM417 240h4v1h-4zM425 240h3v1h-3zM690 377h2v1h-2zM788 377h2v1h-2zM564 380h2v1h-2zM682 380h3v1h-3zM797 380h4v1h-4zM709 368h4v1h-4zM717 368h8v1h-8zM741 368h4v1h-4zM757 368h8v1h-8zM706 369h3v1h-3zM725 369h4v1h-4zM737 369h4v1h-4zM765 369h7v1h-7zM629 395h4v1h-4zM654 395h2v1h-2zM983 461h2v1h-2zM1184 461h2v1h-2zM403 232h2v1h-2zM384 218h2v1h-2zM241 134h16v1h-16zM367 206h2v1h-2zM1025 494h44v1h-44zM688 378h2v1h-2zM790 378h3v1h-3zM13 165h4v1h-4zM83 168h2v1h-2zM633 396h4v1h-4zM652 396h2v1h-2zM936 420h2v1h-2zM1173 467h3v1h-3zM979 458h2v1h-2zM1158 470h3v1h-3zM399 229h2v1h-2zM694 375h2v1h-2zM782 375h3v1h-3zM363 203h2v1h-2zM107 148h2v1h-2zM374 212h2v1h-2zM670 386h2v1h-2zM10 164h3v1h-3zM17 164h4v1h-4zM40 164h2v1h-2zM312 164h2v1h-2zM680 381h2v1h-2zM801 381h4v1h-4zM52 174h2v1h-2zM73 174h2v1h-2zM114 142h2v1h-2zM149 142h4v1h-4zM165 142h4v1h-4zM272 142h2v1h-2zM129 135h4v1h-4zM237 135h4v1h-4zM257 135h3v1h-3zM407 235h2v1h-2zM562 379h2v1h-2zM685 379h3v1h-3zM793 379h4v1h-4zM80 170h2v1h-2zM278 145h3v1h-3zM103 151h2v1h-2zM995 473h2v1h-2zM1141 473h4v1h-4zM1130 476h3v1h-3zM379 215h2v1h-2zM1114 485h2v1h-2zM293 147h2v1h-2zM56 176h2v1h-2zM68 176h2v1h-2zM1133 475h4v1h-4zM412 238h2v1h-2zM567 382h2v1h-2zM678 382h2v1h-2zM805 382h3v1h-3zM58 177h3v1h-3zM65 177h3v1h-3zM330 177h2v1h-2zM967 450h2v1h-2zM919 410h2v1h-2zM507 321h2v1h-2zM8 163h2v1h-2zM21 163h4v1h-4zM37 163h3v1h-3zM310 163h2v1h-2zM933 419h3v1h-3zM926 416h2v1h-2zM698 373h2v1h-2zM778 373h2v1h-2zM315 166h2v1h-2zM6 162h2v1h-2zM25 162h12v1h-12zM440 247h2v1h-2zM696 374h2v1h-2zM780 374h2v1h-2zM666 388h2v1h-2zM815 388h2v1h-2zM410 237h2v1h-2zM1116 484h2v1h-2zM50 173h2v1h-2zM75 173h2v1h-2zM1120 482h2v1h-2zM928 417h2v1h-2zM99 154h2v1h-2zM970 452h2v1h-2zM382 217h2v1h-2zM570 384h2v1h-2zM674 384h2v1h-2zM137 137h3v1h-3zM224 137h2v1h-2zM262 137h2v1h-2zM432 243h2v1h-2zM391 223h2v1h-2zM1156 471h2v1h-2zM1018 491h2v1h-2zM1104 491h2v1h-2zM324 172h2v1h-2zM319 169h2v1h-2zM438 246h2v1h-2zM430 242h2v1h-2zM78 171h2v1h-2zM322 171h2v1h-2zM1011 487h2v1h-2zM1111 487h2v1h-2zM1128 477h2v1h-2zM702 371h2v1h-2zM774 371h2v1h-2zM547 365h2v1h-2zM443 249h2v1h-2zM434 244h2v1h-2zM436 245h2v1h-2zM351 193h2v1h-2zM1118 483h2v1h-2zM972 453h2v1h-2zM348 191h2v1h-2zM359 200h2v1h-2zM518 331h1v1h-1zM817 389h1v1h-1zM537 353h1v1h-1zM1246 395h1v1h-1zM993 471h1v1h-1zM448 253h1v1h-1zM86 166h1v1h-1zM3 159h1v1h-1zM1122 481h1v1h-1zM1005 481h1v1h-1zM370 208h1v1h-1zM525 338h1v1h-1zM1234 407h1v1h-1zM526 339h1v1h-1zM1254 385h1v1h-1zM1215 429h1v2h-1zM499 312h1v1h-1zM985 462h1v1h-1zM456 261h1v1h-1zM551 368h1v1h-1zM500 313h1v1h-1zM340 184h1v1h-1zM986 463h1v1h-1zM665 389h1v1h-1zM299 152h1v1h-1zM481 290h1v1h-1zM907 398h1v1h-1zM482 291h1v1h-1zM355 196h1v1h-1zM908 399h1v1h-1zM558 375h1v1h-1zM577 388h1v1h-1zM488 297h1v2h-1zM1202 446h1v1h-1zM941 423h1v1h-1zM97 156h1v1h-1zM1110 488h1v1h-1zM559 376h1v1h-1zM489 299h1v1h-1zM581 391h1v1h-1zM470 276h1v1h-1zM339 183h1v1h-1zM101 153h1v1h-1zM90 162h1v1h-1zM1241 400h1v1h-1zM948 430h1v2h-1zM813 386h1v1h-1zM999 476h1v1h-1zM1199 449h1v1h-1zM455 260h1v1h-1zM1000 477h1v1h-1zM365 204h1v1h-1zM480 288h1v2h-1zM536 351h1v2h-1zM1249 391h1v1h-1zM366 205h1v1h-1zM1186 460h1v1h-1zM955 438h1v1h-1zM1229 412h1v1h-1zM540 356h1v2h-1zM462 267h1v1h-1zM463 268h1v1h-1zM487 296h1v1h-1zM981 459h1v1h-1zM43 166h1v1h-1zM962 445h1v1h-1zM528 341h1v2h-1zM914 405h1v1h-1zM350 192h1v1h-1zM1206 442h1v1h-1zM513 326h1v1h-1zM947 429h1v1h-1zM529 343h1v1h-1zM1218 425h1v1h-1zM473 280h1v1h-1zM535 350h1v1h-1zM514 327h1v1h-1zM988 465h1v2h-1zM321 170h1v1h-1zM1178 465h1v1h-1zM1190 457h1v1h-1zM85 167h1v1h-1zM520 333h1v1h-1zM1194 454h1v1h-1zM521 334h1v1h-1zM569 383h1v1h-1zM5 161h1v1h-1zM491 301h1v2h-1zM112 144h1v1h-1zM1224 417h1v2h-1zM361 201h1v1h-1zM1209 438h1v1h-1zM1212 434h1v1h-1zM1221 421h1v1h-1zM105 150h1v1h-1zM394 225h1v1h-1zM1248 392h1v2h-1zM88 164h1v1h-1zM903 394h1v1h-1zM987 464h1v1h-1zM77 172h1v1h-1zM502 315h1v1h-1zM977 456h1v1h-1zM1236 405h1v1h-1zM1201 447h1v1h-1zM994 472h1v1h-1zM921 411h1v1h-1zM302 155h1v1h-1zM4 160h1v1h-1zM409 236h1v1h-1zM357 198h1v1h-1zM450 255h1v1h-1zM1006 482h1v1h-1zM490 300h1v1h-1zM371 209h1v1h-1zM390 222h1v1h-1zM472 278h1v2h-1zM451 256h1v1h-1zM372 210h1v1h-1zM494 306h1v1h-1zM553 370h1v1h-1zM950 433h1v1h-1zM457 262h1v1h-1zM538 354h1v1h-1zM951 434h1v1h-1zM356 197h1v1h-1zM458 263h1v1h-1zM300 153h1v1h-1zM301 154h1v1h-1zM92 160h1v1h-1zM1243 398h1v1h-1zM483 292h1v1h-1zM1208 439h1v2h-1zM957 440h1v1h-1zM909 400h1v1h-1zM969 451h1v1h-1zM958 441h1v1h-1zM942 424h1v1h-1zM465 270h1v1h-1zM509 322h1v1h-1zM943 425h1v1h-1zM471 277h1v1h-1zM327 174h1v1h-1zM1231 410h1v1h-1zM916 407h1v1h-1zM814 387h1v1h-1zM1196 452h1v1h-1zM501 314h1v1h-1zM341 185h1v1h-1zM1001 478h1v1h-1zM342 186h1v1h-1zM405 233h1v1h-1zM516 329h1v1h-1zM1002 479h1v1h-1zM386 219h1v1h-1zM578 389h1v1h-1zM956 439h1v1h-1zM991 469h1v1h-1zM389 221h1v1h-1zM560 377h1v1h-1zM381 216h1v1h-1zM1220 422h1v2h-1zM493 304h1v2h-1zM464 269h1v1h-1zM1240 401h1v1h-1zM523 336h1v1h-1zM982 460h1v1h-1zM326 173h1v1h-1zM44 167h1v1h-1zM963 446h1v1h-1zM515 328h1v1h-1zM87 165h1v1h-1zM1238 403h1v1h-1zM45 168h1v1h-1zM964 447h1v1h-1zM530 344h1v1h-1zM1228 413h1v1h-1zM989 467h1v1h-1zM541 358h1v1h-1zM504 317h1v2h-1zM938 421h1v1h-1zM978 457h1v1h-1zM990 468h1v1h-1zM445 250h1v1h-1zM1211 435h1v2h-1zM1223 419h1v1h-1zM1226 415h1v1h-1zM304 157h1v2h-1zM378 214h1v1h-1zM810 384h1v1h-1zM1247 394h1v1h-1zM1250 390h1v1h-1zM492 303h1v1h-1zM915 406h1v1h-1zM452 257h1v1h-1zM362 202h1v1h-1zM1008 484h1v1h-1zM125 137h1v1h-1zM474 281h1v1h-1zM94 158h1v1h-1zM453 258h1v1h-1zM295 148h1v1h-1zM574 386h1v1h-1zM1203 445h1v1h-1zM296 149h1v1h-1zM1235 406h1v1h-1zM904 395h1v1h-1zM953 436h1v1h-1zM522 335h1v1h-1zM1233 408h1v1h-1zM544 361h1v2h-1zM303 156h1v1h-1zM1214 431h1v1h-1zM314 165h1v1h-1zM373 211h1v1h-1zM317 167h1v1h-1zM496 308h1v2h-1zM109 147h1v1h-1zM318 168h1v1h-1zM337 181h1v1h-1zM974 454h1v1h-1zM98 155h1v1h-1zM532 346h1v2h-1zM945 427h1v1h-1zM1245 396h1v1h-1zM554 371h1v1h-1zM533 348h1v1h-1zM1242 399h1v1h-1zM503 316h1v1h-1zM1125 479h1v1h-1zM555 372h1v1h-1zM539 355h1v1h-1zM952 435h1v1h-1zM566 381h1v1h-1zM459 264h1v1h-1zM344 188h1v1h-1zM922 412h1v1h-1zM1217 426h1v2h-1zM358 199h1v1h-1zM89 163h1v1h-1zM561 378h1v1h-1zM1007 483h1v1h-1zM1253 386h1v1h-1zM1198 450h1v1h-1zM1230 411h1v1h-1zM485 294h1v1h-1zM1195 453h1v1h-1zM959 442h1v1h-1zM911 402h1v1h-1zM495 307h1v1h-1zM466 271h1v1h-1zM944 426h1v1h-1zM406 234h1v1h-1zM477 285h1v1h-1zM47 170h1v1h-1zM966 449h1v1h-1zM918 409h1v1h-1zM343 187h1v1h-1zM1113 486h1v1h-1zM1210 437h1v1h-1zM484 293h1v1h-1zM910 401h1v1h-1zM506 320h1v1h-1zM992 470h1v1h-1zM2 158h1v1h-1zM1205 443h1v1h-1zM306 160h1v1h-1zM510 323h1v1h-1zM1237 404h1v1h-1zM369 207h1v1h-1zM309 162h1v1h-1zM328 175h1v1h-1zM402 231h1v1h-1zM917 408h1v1h-1zM1189 458h1v1h-1zM476 283h1v2h-1zM1181 463h1v1h-1zM1013 488h1v1h-1zM1193 455h1v1h-1zM1213 432h1v2h-1zM517 330h1v1h-1zM1225 416h1v1h-1zM1252 387h1v2h-1zM111 145h1v1h-1zM298 151h1v1h-1zM542 359h1v1h-1zM543 360h1v1h-1zM447 252h1v1h-1zM305 159h1v1h-1zM524 337h1v1h-1zM93 159h1v1h-1zM549 366h1v1h-1zM469 275h1v1h-1zM498 311h1v1h-1zM46 169h1v1h-1zM965 448h1v1h-1zM531 345h1v1h-1zM550 367h1v1h-1zM475 282h1v1h-1zM454 259h1v1h-1zM1200 448h1v1h-1zM353 194h1v1h-1zM505 319h1v1h-1zM446 251h1v1h-1zM354 195h1v1h-1zM557 374h1v1h-1zM954 437h1v1h-1zM398 228h1v1h-1zM461 266h1v1h-1zM924 414h1v1h-1zM401 230h1v1h-1zM925 415h1v1h-1zM1009 485h1v1h-1zM1244 397h1v1h-1zM497 310h1v1h-1zM468 273h1v2h-1zM1010 486h1v1h-1zM338 182h1v1h-1zM297 150h1v1h-1zM442 248h1v1h-1zM662 391h1v1h-1zM905 396h1v1h-1zM1216 428h1v1h-1zM906 397h1v1h-1zM1232 409h1v1h-1zM1197 451h1v1h-1zM556 373h1v1h-1zM345 189h1v1h-1zM397 227h1v1h-1zM545 363h1v1h-1zM923 413h1v1h-1zM486 295h1v1h-1zM912 403h1v1h-1zM546 364h1v1h-1zM511 324h1v1h-1zM913 404h1v1h-1zM997 474h1v1h-1zM512 325h1v1h-1zM946 428h1v1h-1zM102 152h1v1h-1zM91 161h1v1h-1zM998 475h1v1h-1zM42 165h1v1h-1zM961 444h1v1h-1zM534 349h1v1h-1zM106 149h1v1h-1zM478 286h1v1h-1zM1207 441h1v1h-1zM460 265h1v1h-1zM1219 424h1v1h-1zM479 287h1v1h-1zM1239 402h1v1h-1zM519 332h1v1h-1zM1204 444h1v1h-1zM49 172h1v1h-1zM82 169h1v1h-1zM334 179h1v1h-1zM960 443h1v1h-1zM467 272h1v1h-1zM449 254h1v1h-1zM1227 414h1v1h-1zM329 176h1v1h-1zM113 143h1v1h-1zM527 340h1v1h-1zM1251 389h1v1h-1zM110 146h1v1h-1zM393 224h1v1h-1zM48 171h1v1h-1zM1222 420h1v1h-1zM552 369h1v1h-1zM949 432h1v1h-1z" fill="#0000cd"/><path d="M434 261h2v1h-2zM1137 459h4v1h-4zM1168 459h2v1h-2zM1179 459h2v1h-2zM533 385h2v1h-2zM759 385h2v1h-2zM837 385h4v1h-4zM658 387h2v1h-2zM832 387h2v1h-2zM844 387h2v1h-2zM958 487h2v1h-2zM1070 487h7v1h-7zM226 132h11v1h-11zM629 394h4v1h-4zM770 394h3v1h-3zM789 394h4v1h-4zM814 394h2v1h-2zM822 394h2v1h-2zM106 143h3v1h-3zM123 143h2v1h-2zM147 143h2v1h-2zM158 136h2v1h-2zM166 136h2v1h-2zM179 136h2v1h-2zM200 136h2v1h-2zM256 136h2v1h-2zM66 127h3v1h-3zM72 127h2v1h-2zM546 393h2v1h-2zM563 393h2v1h-2zM633 393h2v1h-2zM793 393h4v1h-4zM801 393h4v1h-4zM812 393h2v1h-2zM824 393h2v1h-2zM854 393h10v1h-10zM891 393h2v1h-2zM538 389h2v1h-2zM655 389h2v1h-2zM848 389h2v1h-2zM1077 486h4v1h-4zM1085 486h12v1h-12zM327 209h2v1h-2zM6 229h3v1h-3zM350 229h7v1h-7zM373 229h4v1h-4zM160 135h2v1h-2zM164 135h2v1h-2zM197 135h3v1h-3zM250 135h6v1h-6zM998 494h6v1h-6zM1057 494h2v1h-2zM687 358h2v1h-2zM334 214h2v1h-2zM992 491h2v1h-2zM1062 491h2v1h-2zM51 140h2v1h-2zM114 140h3v1h-3zM151 140h2v1h-2zM213 140h3v1h-3zM263 140h2v1h-2zM544 392h2v1h-2zM548 392h2v1h-2zM561 392h2v1h-2zM635 392h2v1h-2zM797 392h4v1h-4zM805 392h7v1h-7zM864 392h2v1h-2zM570 397h2v1h-2zM605 397h4v1h-4zM962 489h3v1h-3zM977 489h8v1h-8zM988 489h2v1h-2zM1066 489h2v1h-2zM362 225h5v1h-5zM1126 462h2v1h-2zM282 157h5v1h-5zM540 390h2v1h-2zM553 390h4v1h-4zM638 390h17v1h-17zM886 390h2v1h-2zM1141 458h4v1h-4zM1166 458h2v1h-2zM515 377h2v1h-2zM1013 498h8v1h-8zM206 139h7v1h-7zM216 139h2v1h-2zM1006 496h3v1h-3zM1052 496h2v1h-2zM660 386h2v1h-2zM834 386h3v1h-3zM841 386h3v1h-3zM576 400h2v1h-2zM594 400h3v1h-3zM698 349h2v1h-2zM323 206h2v1h-2zM582 403h3v1h-3zM588 403h2v1h-2zM574 399h2v1h-2zM597 399h4v1h-4zM763 388h2v1h-2zM830 388h2v1h-2zM846 388h2v1h-2zM542 391h2v1h-2zM550 391h3v1h-3zM557 391h4v1h-4zM851 391h2v1h-2zM888 391h2v1h-2zM568 396h2v1h-2zM609 396h4v1h-4zM777 396h8v1h-8zM818 396h2v1h-2zM895 396h2v1h-2zM130 147h2v1h-2zM141 147h2v1h-2zM271 147h2v1h-2zM965 490h12v1h-12zM990 490h2v1h-2zM1064 490h2v1h-2zM1145 457h12v1h-12zM1164 457h2v1h-2zM54 138h2v1h-2zM154 138h2v1h-2zM170 138h7v1h-7zM204 138h2v1h-2zM260 138h2v1h-2zM704 346h2v1h-2zM713 346h2v1h-2zM56 137h2v1h-2zM156 137h2v1h-2zM168 137h2v1h-2zM177 137h2v1h-2zM202 137h2v1h-2zM219 137h2v1h-2zM258 137h2v1h-2zM960 488h2v1h-2zM985 488h3v1h-3zM1068 488h2v1h-2zM9 230h2v1h-2zM377 230h3v1h-3zM439 264h2v1h-2zM185 133h8v1h-8zM237 133h4v1h-4zM245 133h3v1h-3zM1004 495h2v1h-2zM1054 495h3v1h-3zM430 259h2v1h-2zM422 255h3v1h-3zM416 252h2v1h-2zM1037 501h8v1h-8zM510 375h3v1h-3zM69 126h3v1h-3zM1115 473h2v1h-2zM1081 485h4v1h-4zM1097 485h3v1h-3zM425 256h2v1h-2zM162 134h2v1h-2zM182 134h3v1h-3zM193 134h4v1h-4zM223 134h2v1h-2zM241 134h4v1h-4zM248 134h2v1h-2zM403 245h2v1h-2zM566 395h2v1h-2zM613 395h16v1h-16zM773 395h4v1h-4zM785 395h4v1h-4zM816 395h2v1h-2zM820 395h2v1h-2zM128 146h2v1h-2zM143 146h2v1h-2zM994 492h2v1h-2zM46 142h3v1h-3zM109 142h3v1h-3zM121 142h2v1h-2zM736 370h2v1h-2zM706 345h7v1h-7zM525 383h4v1h-4zM874 383h6v1h-6zM529 384h4v1h-4zM663 384h2v1h-2zM880 384h2v1h-2zM1130 460h7v1h-7zM1170 460h3v1h-3zM1177 460h2v1h-2zM572 398h2v1h-2zM601 398h4v1h-4zM1025 500h12v1h-12zM1045 500h2v1h-2zM702 347h2v1h-2zM94 149h5v1h-5zM134 149h3v1h-3zM436 262h2v1h-2zM104 144h2v1h-2zM367 226h2v1h-2zM1009 497h4v1h-4zM1050 497h2v1h-2zM408 248h2v1h-2zM683 361h2v1h-2zM347 227h2v1h-2zM359 227h2v1h-2zM996 493h2v1h-2zM1059 493h2v1h-2zM578 401h2v1h-2zM592 401h2v1h-2zM700 348h2v1h-2zM357 228h2v1h-2zM370 228h3v1h-3zM102 145h2v1h-2zM126 145h2v1h-2zM49 141h2v1h-2zM112 141h2v1h-2zM117 141h4v1h-4zM384 233h2v1h-2zM741 372h4v1h-4zM1157 456h7v1h-7zM1183 456h2v1h-2zM414 251h2v1h-2zM1128 461h2v1h-2zM1173 461h4v1h-4zM406 247h2v1h-2zM1021 499h4v1h-4zM1047 499h2v1h-2zM1107 480h2v1h-2zM513 376h2v1h-2zM427 257h2v1h-2zM418 253h2v1h-2zM420 254h2v1h-2zM412 250h2v1h-2zM738 371h3v1h-3zM1100 484h2v1h-2zM506 373h2v1h-2zM745 373h2v1h-2zM398 243h3v1h-3zM508 374h2v1h-2zM287 158h2v1h-2zM63 129h2v1h-2zM75 129h2v1h-2zM311 195h2v1h-2zM432 260h2v1h-2zM734 369h2v1h-2zM410 249h2v1h-2zM382 232h2v1h-2zM580 402h2v1h-2zM590 402h2v1h-2zM522 382h3v1h-3zM755 382h2v1h-2zM695 351h2v1h-2zM519 380h2v1h-2zM387 235h2v1h-2zM380 231h2v1h-2zM401 244h2v1h-2zM395 241h2v1h-2zM132 148h2v1h-2zM137 148h4v1h-4zM391 238h2v1h-2zM731 367h2v1h-2zM331 212h2v1h-2zM275 150h2v1h-2zM1102 483h2v1h-2zM336 215h2v1h-2zM585 404h3v1h-3zM1104 482h2v1h-2zM321 204h1v1h-1zM84 139h1v1h-1zM474 315h1v2h-1zM21 206h1v3h-1zM265 141h1v1h-1zM1219 387h1v3h-1zM34 164h1v3h-1zM1240 339h1v2h-1zM885 389h1v1h-1zM429 258h1v1h-1zM488 343h1v2h-1zM1204 425h1v2h-1zM266 142h1v1h-1zM1232 353h1v2h-1zM277 151h1v1h-1zM90 145h1v1h-1zM38 153h1v3h-1zM936 458h1v2h-1zM462 291h1v2h-1zM299 174h1v2h-1zM91 146h1v1h-1zM899 399h1v1h-1zM29 178h1v4h-1zM292 162h1v2h-1zM940 463h1v2h-1zM900 400h1v2h-1zM908 412h1v2h-1zM33 167h1v3h-1zM669 378h1v1h-1zM495 359h1v2h-1zM1231 355h1v2h-1zM37 156h1v3h-1zM1122 467h1v1h-1zM1220 383h1v4h-1zM719 351h1v1h-1zM954 483h1v1h-1zM28 182h1v3h-1zM730 366h1v1h-1zM309 193h1v1h-1zM1199 435h1v2h-1zM521 381h1v1h-1zM470 307h1v2h-1zM955 484h1v1h-1zM483 335h1v2h-1zM491 349h1v2h-1zM473 313h1v2h-1zM343 221h1v2h-1zM1215 398h1v2h-1zM305 186h1v2h-1zM484 337h1v1h-1zM929 448h1v2h-1zM302 180h1v2h-1zM487 341h1v2h-1zM20 209h1v3h-1zM1228 362h1v3h-1zM1243 334h1v2h-1zM480 329h1v2h-1zM461 289h1v2h-1zM903 404h1v2h-1zM298 172h1v2h-1zM498 365h1v1h-1zM1195 441h1v2h-1zM291 161h1v1h-1zM1214 400h1v3h-1zM1125 463h1v1h-1zM907 411h1v1h-1zM672 374h1v1h-1zM1203 427h1v2h-1zM494 356h1v3h-1zM19 212h1v3h-1zM476 319h1v3h-1zM1239 341h1v2h-1zM444 268h1v1h-1zM767 391h1v1h-1zM32 170h1v2h-1zM23 199h1v4h-1zM1206 420h1v3h-1zM884 387h1v2h-1zM36 159h1v2h-1zM469 305h1v2h-1zM490 347h1v2h-1zM451 276h1v1h-1zM1113 475h1v1h-1zM301 178h1v2h-1zM349 228h1v1h-1zM691 355h1v1h-1zM1211 408h1v2h-1zM925 441h1v2h-1zM680 364h1v1h-1zM1235 348h1v2h-1zM1238 343h1v2h-1zM928 446h1v2h-1zM1117 472h1v1h-1zM41 147h1v2h-1zM44 144h1v1h-1zM1106 481h1v1h-1zM939 462h1v1h-1zM921 434h1v2h-1zM497 363h1v2h-1zM35 161h1v3h-1zM766 390h1v1h-1zM675 370h1v1h-1zM718 350h1v1h-1zM943 467h1v2h-1zM316 199h1v1h-1zM390 237h1v1h-1zM24 196h1v3h-1zM1210 410h1v3h-1zM1222 377h1v3h-1zM443 267h1v1h-1zM472 311h1v2h-1zM475 317h1v2h-1zM504 371h1v1h-1zM535 386h1v1h-1zM85 140h1v1h-1zM342 220h1v1h-1zM1193 444h1v2h-1zM345 224h1v2h-1zM1227 365h1v2h-1zM505 372h1v1h-1zM872 385h1v1h-1zM86 141h1v1h-1zM486 340h1v1h-1zM1251 323h1v1h-1zM1230 357h1v3h-1zM479 327h1v2h-1zM924 439h1v2h-1zM932 453h1v1h-1zM751 378h1v1h-1zM268 144h1v1h-1zM762 387h1v1h-1zM906 410h1v1h-1zM668 379h1v2h-1zM454 280h1v1h-1zM1246 329h1v1h-1zM27 185h1v4h-1zM917 427h1v2h-1zM18 215h1v3h-1zM869 388h1v1h-1zM1226 367h1v3h-1zM752 379h1v1h-1zM827 391h1v1h-1zM293 164h1v1h-1zM93 148h1v1h-1zM902 403h1v1h-1zM31 172h1v3h-1zM1182 457h1v1h-1zM294 165h1v1h-1zM942 466h1v1h-1zM181 135h1v1h-1zM1186 454h1v1h-1zM100 147h1v1h-1zM471 309h1v2h-1zM1242 336h1v1h-1zM1234 350h1v1h-1zM322 205h1v1h-1zM218 138h1v1h-1zM30 175h1v3h-1zM453 279h1v1h-1zM1213 403h1v2h-1zM482 333h1v2h-1zM957 486h1v1h-1zM149 142h1v1h-1zM468 303h1v2h-1zM222 135h1v1h-1zM671 375h1v2h-1zM438 263h1v1h-1zM1202 429h1v2h-1zM931 451h1v2h-1zM386 234h1v1h-1zM267 143h1v1h-1zM920 432h1v2h-1zM478 324h1v3h-1zM153 139h1v1h-1zM297 170h1v2h-1zM1124 464h1v2h-1zM22 203h1v3h-1zM1218 390h1v3h-1zM905 408h1v2h-1zM300 176h1v2h-1zM92 147h1v1h-1zM913 420h1v2h-1zM1121 468h1v1h-1zM916 425h1v2h-1zM945 470h1v2h-1zM890 392h1v1h-1zM1189 450h1v1h-1zM909 414h1v1h-1zM721 354h1v1h-1zM946 472h1v1h-1zM949 476h1v2h-1zM682 362h1v1h-1zM1237 345h1v2h-1zM757 383h1v1h-1zM344 223h1v1h-1zM1229 360h1v2h-1zM686 359h1v1h-1zM758 384h1v1h-1zM956 485h1v1h-1zM489 345h1v2h-1zM278 152h1v1h-1zM452 277h1v2h-1zM853 392h1v1h-1zM1209 413h1v2h-1zM481 331h1v2h-1zM927 444h1v2h-1zM333 213h1v1h-1zM485 338h1v2h-1zM930 450h1v1h-1zM1249 325h1v1h-1zM923 437h1v2h-1zM296 168h1v2h-1zM674 371h1v1h-1zM1192 446h1v1h-1zM904 406h1v2h-1zM912 418h1v2h-1zM496 361h1v2h-1zM1241 337h1v2h-1zM77 130h1v1h-1zM2 225h1v1h-1zM499 366h1v1h-1zM1233 351h1v2h-1zM61 131h1v2h-1zM1208 415h1v3h-1zM720 352h1v2h-1zM262 139h1v1h-1zM26 189h1v3h-1zM500 367h1v1h-1zM81 135h1v2h-1zM693 353h1v1h-1zM17 218h1v2h-1zM1212 405h1v3h-1zM1112 476h1v1h-1zM445 269h1v1h-1zM1201 431h1v2h-1zM724 358h1v1h-1zM274 149h1v1h-1zM690 356h1v1h-1zM1225 370h1v2h-1zM871 386h1v1h-1zM829 389h1v1h-1zM537 388h1v1h-1zM25 192h1v4h-1zM467 301h1v2h-1zM1217 393h1v2h-1zM456 282h1v2h-1zM933 454h1v2h-1zM1245 330h1v2h-1zM13 226h1v1h-1zM926 443h1v1h-1zM1188 451h1v2h-1zM934 456h1v1h-1zM1197 438h1v2h-1zM281 156h1v1h-1zM919 430h1v2h-1zM753 380h1v1h-1zM295 166h1v2h-1zM273 148h1v1h-1zM65 128h1v1h-1zM944 469h1v1h-1zM518 379h1v1h-1zM317 200h1v1h-1zM1119 470h1v1h-1zM99 148h1v1h-1zM1253 321h1v1h-1zM536 387h1v1h-1zM768 392h1v1h-1zM697 350h1v1h-1zM318 201h1v1h-1zM80 134h1v1h-1zM329 210h1v1h-1zM1061 492h1v1h-1zM492 351h1v3h-1zM1248 326h1v2h-1zM1221 380h1v3h-1zM466 299h1v2h-1zM1191 447h1v2h-1zM87 142h1v1h-1zM1110 478h1v1h-1zM88 143h1v1h-1zM922 436h1v1h-1zM517 378h1v1h-1zM677 367h1v1h-1zM1216 395h1v3h-1zM269 145h1v1h-1zM665 383h1v1h-1zM477 322h1v2h-1zM915 423h1v2h-1zM897 397h1v1h-1zM16 220h1v2h-1zM866 391h1v1h-1zM918 429h1v1h-1zM1224 372h1v3h-1zM947 473h1v2h-1zM911 416h1v2h-1zM723 356h1v2h-1zM948 475h1v1h-1zM346 226h1v1h-1zM12 227h1v2h-1zM673 372h1v2h-1zM448 272h1v2h-1zM882 385h1v1h-1zM369 227h1v1h-1zM306 188h1v2h-1zM1123 466h1v1h-1zM280 154h1v2h-1zM60 133h1v1h-1zM1049 498h1v1h-1zM565 394h1v1h-1zM455 281h1v1h-1zM657 388h1v1h-1zM463 293h1v2h-1zM53 139h1v1h-1zM715 347h1v1h-1zM1207 418h1v2h-1zM459 286h1v2h-1zM914 422h1v1h-1zM79 132h1v2h-1zM1198 437h1v1h-1zM1244 332h1v2h-1zM722 355h1v1h-1zM40 149h1v2h-1zM1236 347h1v1h-1zM339 217h1v1h-1zM502 369h1v1h-1zM465 297h1v2h-1zM279 153h1v1h-1zM101 146h1v1h-1zM637 391h1v1h-1zM1114 474h1v1h-1zM692 354h1v1h-1zM910 415h1v1h-1zM313 196h1v1h-1zM681 363h1v1h-1zM725 359h1v2h-1zM873 384h1v1h-1zM1118 471h1v1h-1zM950 478h1v1h-1zM78 131h1v1h-1zM338 216h1v1h-1zM726 361h1v1h-1zM951 479h1v1h-1zM4 227h1v1h-1zM319 202h1v1h-1zM82 137h1v1h-1zM676 368h1v2h-1zM679 365h1v1h-1zM320 203h1v1h-1zM15 222h1v2h-1zM1223 375h1v2h-1zM447 271h1v1h-1zM733 368h1v1h-1zM457 284h1v1h-1zM748 375h1v1h-1zM1194 443h1v1h-1zM89 144h1v1h-1zM458 285h1v1h-1zM935 457h1v1h-1zM3 226h1v1h-1zM146 144h1v1h-1zM493 354h1v2h-1zM501 368h1v1h-1zM361 226h1v1h-1zM1247 328h1v1h-1zM1250 324h1v1h-1zM446 270h1v1h-1zM43 145h1v1h-1zM769 393h1v1h-1zM850 390h1v1h-1zM11 229h1v1h-1zM747 374h1v1h-1zM59 134h1v2h-1zM1109 479h1v1h-1zM729 365h1v1h-1zM308 191h1v2h-1zM667 381h1v1h-1zM464 295h1v2h-1zM826 392h1v1h-1zM39 151h1v2h-1zM1181 458h1v1h-1zM405 246h1v1h-1zM74 128h1v1h-1zM397 242h1v1h-1zM754 381h1v1h-1zM1205 423h1v2h-1zM150 141h1v1h-1zM728 363h1v2h-1zM14 224h1v2h-1zM953 482h1v1h-1zM330 211h1v1h-1zM670 377h1v1h-1zM868 389h1v1h-1zM1190 449h1v1h-1zM394 240h1v1h-1zM304 184h1v2h-1zM694 352h1v1h-1zM449 274h1v1h-1zM883 386h1v1h-1zM307 190h1v1h-1zM1120 469h1v1h-1zM450 275h1v1h-1zM1185 455h1v1h-1zM270 146h1v1h-1zM289 159h1v1h-1zM937 460h1v1h-1zM1200 433h1v2h-1zM898 398h1v1h-1zM290 160h1v1h-1zM938 461h1v1h-1zM314 197h1v1h-1zM326 208h1v1h-1zM765 389h1v1h-1zM717 349h1v1h-1zM952 480h1v2h-1zM315 198h1v1h-1zM442 266h1v1h-1zM340 218h1v1h-1zM393 239h1v1h-1zM1254 320h1v1h-1zM62 130h1v1h-1zM341 219h1v1h-1zM303 182h1v2h-1zM325 207h1v1h-1zM716 348h1v1h-1zM460 288h1v1h-1zM750 377h1v1h-1zM441 265h1v1h-1zM678 366h1v1h-1zM5 228h1v1h-1zM828 390h1v1h-1zM221 136h1v1h-1zM503 370h1v1h-1zM727 362h1v1h-1zM893 394h1v1h-1zM225 133h1v1h-1zM894 395h1v1h-1zM1196 440h1v1h-1zM749 376h1v1h-1zM310 194h1v1h-1zM145 145h1v1h-1zM761 386h1v1h-1zM1252 322h1v1h-1zM45 143h1v1h-1zM870 387h1v1h-1zM685 360h1v1h-1zM901 402h1v1h-1zM1111 477h1v1h-1zM662 385h1v1h-1zM389 236h1v1h-1zM941 465h1v1h-1zM689 357h1v1h-1zM58 136h1v1h-1zM125 144h1v1h-1zM83 138h1v1h-1zM666 382h1v1h-1zM42 146h1v1h-1zM1187 453h1v1h-1zM867 390h1v1h-1z" fill="#ff0000"/><path d="M106 159h3v1h-3zM111 159h2v1h-2zM234 137h6v1h-6zM208 135h2v1h-2zM230 135h2v1h-2zM242 135h3v1h-3zM249 135h6v1h-6zM484 378h2v1h-2zM838 378h2v1h-2zM547 403h2v1h-2zM703 358h2v1h-2zM334 219h7v1h-7zM1034 492h2v1h-2zM1074 492h3v1h-3zM1079 492h2v1h-2zM486 377h3v1h-3zM514 377h5v1h-5zM840 377h2v1h-2zM434 263h5v1h-5zM962 501h3v1h-3zM541 404h6v1h-6zM778 410h2v1h-2zM922 480h5v1h-5zM982 480h3v1h-3zM1060 480h2v1h-2zM933 483h10v1h-10zM558 389h2v1h-2zM862 389h3v1h-3zM867 389h2v1h-2zM406 266h7v1h-7zM494 381h3v1h-3zM618 381h2v1h-2zM100 149h2v1h-2zM706 360h3v1h-3zM1046 482h7v1h-7zM562 391h5v1h-5zM854 386h3v1h-3zM872 386h2v1h-2zM876 386h2v1h-2zM637 400h10v1h-10zM206 136h2v1h-2zM232 136h2v1h-2zM240 136h2v1h-2zM245 136h4v1h-4zM366 230h3v1h-3zM647 399h2v1h-2zM678 323h2v1h-2zM114 157h3v1h-3zM176 157h2v1h-2zM1147 474h2v1h-2zM728 383h2v1h-2zM770 412h6v1h-6zM818 412h3v1h-3zM825 412h2v1h-2zM1083 493h2v1h-2zM1012 514h2v1h-2zM1016 514h2v1h-2zM1020 514h2v1h-2zM946 486h2v1h-2zM1014 515h2v1h-2zM1122 436h5v1h-5zM220 131h2v1h-2zM506 387h5v1h-5zM735 387h2v1h-2zM857 387h3v1h-3zM870 387h2v1h-2zM874 385h2v1h-2zM332 218h2v1h-2zM130 146h3v1h-3zM212 133h2v1h-2zM497 382h6v1h-6zM523 382h2v1h-2zM620 382h2v1h-2zM726 382h2v1h-2zM109 160h2v1h-2zM482 379h2v1h-2zM310 231h2v1h-2zM351 231h2v1h-2zM369 231h3v1h-3zM680 324h2v1h-2zM860 388h2v1h-2zM341 220h2v1h-2zM117 156h6v1h-6zM174 156h2v1h-2zM224 129h2v1h-2zM427 259h2v1h-2zM1094 485h2v1h-2zM275 171h2v1h-2zM1036 491h2v1h-2zM1077 491h2v1h-2zM82 117h3v1h-3zM154 117h3v1h-3zM955 495h2v1h-2zM930 484h3v1h-3zM943 484h2v1h-2zM1043 484h2v1h-2zM1096 484h2v1h-2zM821 413h4v1h-4zM378 235h2v1h-2zM634 401h3v1h-3zM1234 306h3v1h-3zM203 134h2v1h-2zM210 134h2v1h-2zM222 130h2v1h-2zM538 405h3v1h-3zM98 148h2v1h-2zM585 415h3v1h-3zM314 233h3v1h-3zM374 233h2v1h-2zM1242 312h3v1h-3zM194 127h5v1h-5zM709 361h3v1h-3zM214 132h6v1h-6zM851 384h2v1h-2zM985 479h2v1h-2zM282 177h9v1h-9zM1053 481h7v1h-7zM560 390h2v1h-2zM865 390h2v1h-2zM1119 438h2v1h-2zM432 262h2v1h-2zM800 367h2v1h-2zM798 368h2v1h-2zM489 376h2v1h-2zM611 376h2v1h-2zM842 376h5v1h-5zM1237 307h2v1h-2zM582 414h3v1h-3zM588 414h2v1h-2zM1087 490h2v1h-2zM326 217h6v1h-6zM358 236h5v1h-5zM380 236h2v1h-2zM312 232h2v1h-2zM317 232h2v1h-2zM372 232h2v1h-2zM413 265h6v1h-6zM78 119h2v1h-2zM151 119h2v1h-2zM776 411h2v1h-2zM1150 476h3v1h-3zM1175 449h2v1h-2zM430 261h2v1h-2zM1250 318h3v1h-3zM80 118h2v1h-2zM85 118h2v1h-2zM419 264h2v1h-2zM133 145h2v1h-2zM355 234h2v1h-2zM376 234h2v1h-2zM1010 513h2v1h-2zM1018 513h2v1h-2zM1164 462h2v1h-2zM695 350h2v1h-2zM1153 475h2v1h-2zM157 116h2v1h-2zM948 487h2v1h-2zM1091 487h2v1h-2zM712 362h2v1h-2zM1245 313h2v1h-2zM58 182h3v1h-3zM780 409h2v1h-2zM1162 463h2v1h-2zM965 500h2v1h-2zM1253 317h2v1h-2zM52 159h1v5h-1zM72 136h1v4h-1zM817 406h1v4h-1zM609 378h1v1h-1zM665 356h1v4h-1zM1208 375h1v4h-1zM421 263h1v1h-1zM1197 404h1v2h-1zM298 191h1v3h-1zM592 410h1v1h-1zM9 210h1v5h-1zM1098 483h1v1h-1zM917 470h1v2h-1zM324 222h1v2h-1zM163 125h1v3h-1zM302 201h1v4h-1zM810 379h1v3h-1zM398 256h1v1h-1zM42 96h1v6h-1zM1212 357h1v4h-1zM903 428h1v3h-1zM166 135h1v3h-1zM399 257h1v1h-1zM813 390h1v4h-1zM102 150h1v2h-1zM906 438h1v3h-1zM454 309h1v3h-1zM554 396h1v1h-1zM755 386h1v2h-1zM1107 465h1v2h-1zM148 122h1v2h-1zM12 194h1v6h-1zM457 319h1v4h-1zM1025 510h1v2h-1zM4 230h1v2h-1zM71 140h1v3h-1zM1200 399h1v2h-1zM1187 428h1v2h-1zM740 382h1v2h-1zM1207 379h1v4h-1zM87 120h1v2h-1zM763 402h1v2h-1zM45 117h1v7h-1zM981 481h1v2h-1zM673 329h1v3h-1zM444 276h1v4h-1zM1196 406h1v3h-1zM1068 485h1v2h-1zM1183 435h1v2h-1zM55 172h1v3h-1zM1195 409h1v2h-1zM737 386h1v1h-1zM39 82h1v5h-1zM58 183h1v1h-1zM91 130h1v2h-1zM504 384h1v2h-1zM384 239h1v2h-1zM8 215h1v4h-1zM1240 309h1v2h-1zM97 145h1v2h-1zM505 386h1v1h-1zM67 158h1v5h-1zM13 189h1v5h-1zM625 387h1v1h-1zM257 140h1v2h-1zM1133 448h1v3h-1zM743 379h1v1h-1zM319 231h1v1h-1zM44 109h1v8h-1zM626 388h1v2h-1zM684 328h1v2h-1zM1106 467h1v2h-1zM147 124h1v1h-1zM481 377h1v2h-1zM909 446h1v3h-1zM11 200h1v5h-1zM345 224h1v2h-1zM51 155h1v4h-1zM1041 486h1v1h-1zM22 127h1v8h-1zM685 330h1v2h-1zM880 389h1v1h-1zM26 95h1v6h-1zM991 484h1v2h-1zM816 402h1v4h-1zM172 152h1v2h-1zM16 169h1v7h-1zM264 155h1v2h-1zM912 455h1v4h-1zM297 188h1v3h-1zM173 154h1v2h-1zM995 490h1v2h-1zM672 332h1v2h-1zM143 130h1v2h-1zM1114 446h1v3h-1zM1032 495h1v2h-1zM869 388h1v1h-1zM980 483h1v2h-1zM62 179h1v2h-1zM919 474h1v2h-1zM1194 411h1v3h-1zM47 131h1v6h-1zM830 400h1v3h-1zM467 348h1v2h-1zM30 80h1v3h-1zM401 260h1v1h-1zM1178 446h1v2h-1zM492 378h1v2h-1zM7 219h1v5h-1zM1228 303h1v1h-1zM74 130h1v3h-1zM1129 440h1v1h-1zM453 305h1v4h-1zM1029 501h1v2h-1zM474 363h1v3h-1zM667 348h1v4h-1zM1089 489h1v1h-1zM1210 366h1v5h-1zM456 316h1v3h-1zM1136 456h1v2h-1zM764 404h1v2h-1zM25 101h1v9h-1zM761 398h1v2h-1zM10 205h1v5h-1zM325 219h1v3h-1zM698 352h1v1h-1zM92 132h1v3h-1zM571 396h1v2h-1zM69 147h1v5h-1zM731 385h1v1h-1zM15 176h1v7h-1zM1113 449h1v3h-1zM1005 507h1v2h-1zM897 416h1v2h-1zM1070 488h1v1h-1zM19 148h1v7h-1zM720 374h1v2h-1zM137 140h1v2h-1zM1193 414h1v3h-1zM1166 461h1v1h-1zM1205 387h1v3h-1zM385 241h1v1h-1zM303 205h1v5h-1zM96 142h1v3h-1zM829 403h1v3h-1zM849 381h1v2h-1zM49 143h1v6h-1zM183 147h1v3h-1zM904 431h1v4h-1zM18 155h1v7h-1zM1177 448h1v1h-1zM814 394h1v4h-1zM1211 361h1v5h-1zM50 149h1v6h-1zM1227 304h1v2h-1zM199 128h1v2h-1zM1190 422h1v2h-1zM907 441h1v3h-1zM659 376h1v3h-1zM1202 396h1v2h-1zM6 224h1v4h-1zM683 326h1v2h-1zM908 444h1v2h-1zM171 150h1v2h-1zM757 390h1v2h-1zM993 487h1v2h-1zM65 167h1v4h-1zM266 159h1v1h-1zM882 391h1v1h-1zM1142 467h1v1h-1zM461 332h1v3h-1zM997 493h1v2h-1zM228 131h1v2h-1zM1169 456h1v2h-1zM532 393h1v2h-1zM693 347h1v2h-1zM1081 493h1v1h-1zM886 396h1v2h-1zM605 383h1v2h-1zM1146 473h1v1h-1zM462 335h1v3h-1zM690 341h1v2h-1zM533 395h1v2h-1zM445 280h1v3h-1zM1062 479h1v1h-1zM56 175h1v4h-1zM787 395h1v2h-1zM1099 481h1v2h-1zM40 87h1v4h-1zM581 412h1v2h-1zM1127 437h1v1h-1zM23 118h1v9h-1zM1128 438h1v2h-1zM403 262h1v1h-1zM475 366h1v2h-1zM321 229h1v1h-1zM182 150h1v2h-1zM476 368h1v2h-1zM745 376h1v1h-1zM1134 451h1v3h-1zM1226 306h1v2h-1zM291 178h1v1h-1zM658 379h1v3h-1zM1135 454h1v2h-1zM657 382h1v3h-1zM608 379h1v2h-1zM5 228h1v2h-1zM295 183h1v3h-1zM958 497h1v1h-1zM802 366h1v1h-1zM718 371h1v2h-1zM1003 503h1v2h-1zM895 412h1v2h-1zM31 78h1v2h-1zM604 385h1v2h-1zM977 488h1v1h-1zM896 414h1v2h-1zM928 482h1v1h-1zM1110 457h1v3h-1zM786 397h1v3h-1zM662 368h1v3h-1zM794 379h1v2h-1zM201 131h1v2h-1zM167 138h1v3h-1zM969 497h1v1h-1zM744 377h1v2h-1zM756 388h1v2h-1zM884 393h1v2h-1zM440 267h1v2h-1zM1144 470h1v1h-1zM531 391h1v2h-1zM21 135h1v7h-1zM268 161h1v2h-1zM888 400h1v2h-1zM124 153h1v1h-1zM999 496h1v2h-1zM189 133h1v2h-1zM35 74h1v2h-1zM692 345h1v2h-1zM1033 493h1v2h-1zM652 394h1v1h-1zM603 387h1v2h-1zM450 295h1v3h-1zM1221 320h1v4h-1zM976 489h1v2h-1zM405 265h1v1h-1zM1159 467h1v1h-1zM793 381h1v2h-1zM1040 487h1v2h-1zM260 146h1v3h-1zM629 394h1v2h-1zM293 180h1v1h-1zM769 411h1v1h-1zM1171 454h1v1h-1zM70 143h1v4h-1zM300 196h1v3h-1zM1102 475h1v2h-1zM123 154h1v2h-1zM512 381h1v3h-1zM651 395h1v2h-1zM724 379h1v2h-1zM1220 324h1v5h-1zM797 370h1v3h-1zM162 123h1v2h-1zM104 154h1v2h-1zM1028 503h1v3h-1zM838 379h1v1h-1zM363 234h1v2h-1zM754 384h1v2h-1zM1174 450h1v1h-1zM439 265h1v2h-1zM442 271h1v2h-1zM270 164h1v1h-1zM34 73h1v1h-1zM1001 499h1v2h-1zM37 77h1v2h-1zM271 165h1v2h-1zM274 170h1v1h-1zM86 119h1v1h-1zM567 392h1v1h-1zM765 406h1v2h-1zM664 360h1v4h-1zM448 289h1v3h-1zM1101 477h1v2h-1zM1027 506h1v2h-1zM259 144h1v2h-1zM1189 424h1v2h-1zM1201 398h1v1h-1zM624 385h1v2h-1zM73 133h1v3h-1zM426 258h1v1h-1zM168 141h1v3h-1zM911 452h1v3h-1zM628 392h1v2h-1zM1023 513h1v2h-1zM686 332h1v2h-1zM676 325h1v1h-1zM1185 431h1v2h-1zM914 462h1v3h-1zM1223 313h1v3h-1zM1072 490h1v1h-1zM33 74h1v2h-1zM722 377h1v1h-1zM655 387h1v3h-1zM299 194h1v2h-1zM1073 491h1v1h-1zM723 378h1v1h-1zM24 110h1v8h-1zM388 244h1v1h-1zM921 478h1v2h-1zM77 121h1v3h-1zM68 152h1v6h-1zM389 245h1v1h-1zM469 352h1v2h-1zM320 230h1v1h-1zM491 377h1v1h-1zM103 152h1v2h-1zM828 406h1v2h-1zM1218 333h1v4h-1zM970 496h1v1h-1zM551 400h1v1h-1zM1188 426h1v2h-1zM350 230h1v1h-1zM989 482h1v1h-1zM145 126h1v2h-1zM272 167h1v1h-1zM1116 442h1v2h-1zM88 122h1v3h-1zM1184 433h1v2h-1zM46 124h1v7h-1zM1222 316h1v4h-1zM697 351h1v1h-1zM569 394h1v1h-1zM141 133h1v2h-1zM832 394h1v3h-1zM94 137h1v3h-1zM730 384h1v1h-1zM1213 352h1v5h-1zM573 400h1v2h-1zM186 139h1v2h-1zM899 420h1v2h-1zM76 124h1v3h-1zM600 394h1v2h-1zM968 498h1v1h-1zM782 407h1v2h-1zM128 148h1v1h-1zM910 449h1v3h-1zM520 379h1v1h-1zM1115 444h1v2h-1zM913 459h1v3h-1zM790 387h1v3h-1zM464 340h1v3h-1zM535 399h1v2h-1zM831 397h1v3h-1zM390 246h1v1h-1zM48 137h1v6h-1zM185 141h1v3h-1zM391 247h1v1h-1zM75 127h1v3h-1zM669 340h1v4h-1zM493 380h1v1h-1zM66 163h1v4h-1zM748 377h1v2h-1zM599 396h1v2h-1zM1045 483h1v1h-1zM307 225h1v2h-1zM27 91h1v4h-1zM478 372h1v2h-1zM17 162h1v7h-1zM835 385h1v3h-1zM595 404h1v2h-1zM1170 455h1v1h-1zM1216 341h1v3h-1zM789 390h1v2h-1zM1067 484h1v1h-1zM572 398h1v2h-1zM591 411h1v2h-1zM898 418h1v2h-1zM575 403h1v1h-1zM382 237h1v1h-1zM732 386h1v1h-1zM503 383h1v1h-1zM184 144h1v3h-1zM304 210h1v6h-1zM557 390h1v2h-1zM905 435h1v3h-1zM200 130h1v1h-1zM553 397h1v1h-1zM344 223h1v1h-1zM459 326h1v3h-1zM758 392h1v2h-1zM1024 512h1v1h-1zM834 388h1v3h-1zM1215 344h1v4h-1zM887 398h1v2h-1zM705 359h1v1h-1zM694 349h1v1h-1zM57 179h1v3h-1zM556 392h1v2h-1zM255 136h1v2h-1zM796 373h1v3h-1zM1231 301h1v2h-1zM205 135h1v1h-1zM306 221h1v4h-1zM262 151h1v2h-1zM742 380h1v1h-1zM178 158h1v1h-1zM1149 475h1v1h-1zM190 132h1v1h-1zM675 326h1v1h-1zM64 171h1v4h-1zM767 409h1v1h-1zM768 410h1v1h-1zM1069 487h1v1h-1zM277 172h1v1h-1zM803 367h1v1h-1zM701 356h1v1h-1zM98 147h1v1h-1zM14 183h1v6h-1zM164 128h1v4h-1zM1157 469h1v2h-1zM43 102h1v7h-1zM455 312h1v4h-1zM346 226h1v1h-1zM357 235h1v1h-1zM429 260h1v1h-1zM347 227h1v1h-1zM760 396h1v2h-1zM666 352h1v4h-1zM458 323h1v3h-1zM1209 371h1v4h-1zM996 492h1v1h-1zM63 175h1v4h-1zM1145 471h1v2h-1zM447 286h1v3h-1zM674 327h1v2h-1zM889 402h1v2h-1zM1000 498h1v1h-1zM892 407h1v1h-1zM715 365h1v2h-1zM847 377h1v2h-1zM1180 441h1v3h-1zM395 251h1v2h-1zM661 371h1v3h-1zM1130 441h1v2h-1zM1204 390h1v3h-1zM1233 304h1v2h-1zM615 375h1v2h-1zM1156 471h1v2h-1zM127 149h1v1h-1zM261 149h1v2h-1zM353 232h1v1h-1zM630 396h1v2h-1zM294 181h1v2h-1zM354 233h1v1h-1zM805 370h1v1h-1zM61 181h1v1h-1zM1071 489h1v1h-1zM301 199h1v2h-1zM721 376h1v1h-1zM927 481h1v1h-1zM386 242h1v1h-1zM387 243h1v1h-1zM920 476h1v2h-1zM812 386h1v4h-1zM660 374h1v2h-1zM471 357h1v2h-1zM1203 393h1v3h-1zM135 143h1v2h-1zM1179 444h1v2h-1zM622 383h1v1h-1zM348 228h1v1h-1zM1155 473h1v2h-1zM987 480h1v1h-1zM443 273h1v3h-1zM349 229h1v1h-1zM998 495h1v1h-1zM890 404h1v1h-1zM54 168h1v4h-1zM326 218h1v1h-1zM788 392h1v3h-1zM1002 501h1v2h-1zM38 79h1v3h-1zM446 283h1v3h-1zM714 363h1v2h-1zM89 125h1v2h-1zM393 249h1v1h-1zM511 384h1v2h-1zM93 135h1v2h-1zM397 254h1v2h-1zM785 400h1v2h-1zM1109 460h1v2h-1zM165 132h1v3h-1zM668 344h1v4h-1zM614 374h1v1h-1zM552 398h1v2h-1zM292 179h1v1h-1zM818 410h1v2h-1zM1198 402h1v2h-1zM687 334h1v2h-1zM632 399h1v1h-1zM423 261h1v1h-1zM188 135h1v2h-1zM20 142h1v6h-1zM734 388h1v1h-1zM463 338h1v2h-1zM663 364h1v4h-1zM1206 383h1v4h-1zM929 483h1v1h-1zM29 83h1v4h-1zM602 389h1v3h-1zM811 382h1v4h-1zM470 354h1v3h-1zM106 158h1v1h-1zM1108 462h1v3h-1zM746 375h1v1h-1zM129 147h1v1h-1zM441 269h1v2h-1zM741 381h1v1h-1zM36 76h1v1h-1zM53 164h1v4h-1zM273 168h1v2h-1zM654 390h1v2h-1zM671 334h1v3h-1zM160 119h1v2h-1zM1031 497h1v2h-1zM574 402h1v1h-1zM900 422h1v2h-1zM973 493h1v1h-1zM1161 464h1v1h-1zM650 397h1v1h-1zM279 174h1v1h-1zM144 128h1v2h-1zM280 175h1v1h-1zM725 381h1v1h-1zM140 135h1v2h-1zM653 392h1v2h-1zM451 298h1v4h-1zM670 337h1v3h-1zM1030 499h1v2h-1zM105 156h1v2h-1zM1160 465h1v2h-1zM1192 417h1v2h-1zM365 231h1v2h-1zM308 227h1v2h-1zM479 374h1v2h-1zM1137 458h1v2h-1zM881 390h1v1h-1zM425 259h1v1h-1zM992 486h1v1h-1zM766 408h1v1h-1zM227 129h1v2h-1zM1167 459h1v2h-1zM916 467h1v3h-1zM159 117h1v2h-1zM576 404h1v2h-1zM139 137h1v2h-1zM902 426h1v2h-1zM323 224h1v3h-1zM815 398h1v4h-1zM364 233h1v1h-1zM606 382h1v1h-1zM3 232h1v2h-1zM945 485h1v1h-1zM281 176h1v1h-1zM594 406h1v2h-1zM534 397h1v2h-1zM537 403h1v2h-1zM717 369h1v2h-1zM891 405h1v2h-1zM41 91h1v5h-1zM322 227h1v2h-1zM1219 329h1v4h-1zM150 120h1v1h-1zM1132 446h1v2h-1zM613 375h1v1h-1zM750 380h1v1h-1zM480 376h1v1h-1zM477 370h1v2h-1zM990 483h1v1h-1zM525 383h1v1h-1zM967 499h1v1h-1zM263 153h1v2h-1zM1139 461h1v2h-1zM1105 469h1v2h-1zM526 384h1v1h-1zM994 489h1v1h-1zM296 186h1v2h-1zM226 128h1v1h-1zM833 391h1v3h-1zM2 234h1v2h-1zM739 384h1v1h-1zM229 133h1v2h-1zM1214 348h1v4h-1zM915 465h1v2h-1zM804 368h1v2h-1zM807 373h1v2h-1zM577 406h1v1h-1zM979 485h1v2h-1zM466 345h1v3h-1zM578 407h1v1h-1zM974 492h1v1h-1zM795 376h1v3h-1zM202 133h1v1h-1zM1038 490h1v1h-1zM521 380h1v1h-1zM125 151h1v2h-1zM522 381h1v1h-1zM1104 471h1v2h-1zM893 408h1v2h-1zM1004 505h1v2h-1zM1112 452h1v2h-1zM848 379h1v2h-1zM392 248h1v1h-1zM95 140h1v2h-1zM136 142h1v1h-1zM649 398h1v1h-1zM305 216h1v5h-1zM1230 300h1v1h-1zM28 87h1v4h-1zM1131 443h1v3h-1zM616 377h1v2h-1zM1217 337h1v4h-1zM170 147h1v3h-1zM1172 452h1v2h-1zM950 488h1v1h-1zM885 395h1v1h-1zM528 386h1v2h-1zM951 489h1v2h-1zM689 339h1v2h-1zM1103 473h1v2h-1zM954 494h1v1h-1zM699 353h1v1h-1zM513 379h1v2h-1zM700 354h1v2h-1zM806 371h1v2h-1zM809 377h1v2h-1zM596 402h1v2h-1zM733 387h1v1h-1zM1111 454h1v3h-1zM580 410h1v2h-1zM1248 315h1v2h-1zM1191 419h1v3h-1zM472 359h1v2h-1zM827 408h1v3h-1zM1229 301h1v2h-1zM181 152h1v2h-1zM1199 401h1v1h-1zM759 394h1v2h-1zM1225 308h1v3h-1zM424 260h1v1h-1zM607 381h1v1h-1zM90 127h1v3h-1zM590 413h1v1h-1zM394 250h1v1h-1zM1232 303h1v1h-1zM610 377h1v1h-1zM180 154h1v2h-1zM192 129h1v2h-1zM952 491h1v1h-1zM169 144h1v3h-1zM1086 491h1v1h-1zM1224 311h1v2h-1zM530 389h1v2h-1zM549 402h1v1h-1zM656 385h1v2h-1zM460 329h1v3h-1zM688 336h1v3h-1zM278 173h1v1h-1zM702 357h1v1h-1zM568 393h1v1h-1zM78 120h1v1h-1zM449 292h1v3h-1zM452 302h1v3h-1zM149 121h1v1h-1zM784 402h1v3h-1zM473 361h1v2h-1zM256 138h1v2h-1zM792 383h1v2h-1zM878 387h1v1h-1zM1117 440h1v2h-1zM179 156h1v2h-1zM191 131h1v1h-1zM879 388h1v1h-1zM126 150h1v1h-1zM738 385h1v1h-1zM187 137h1v2h-1zM918 472h1v2h-1zM978 487h1v1h-1zM161 121h1v2h-1zM396 253h1v1h-1zM601 392h1v2h-1zM901 424h1v2h-1zM400 258h1v2h-1zM783 405h1v2h-1zM1042 485h1v1h-1zM597 400h1v2h-1zM837 380h1v3h-1zM631 398h1v1h-1zM791 385h1v2h-1zM1168 458h1v1h-1zM1065 482h1v1h-1zM570 395h1v1h-1zM536 401h1v2h-1zM1100 479h1v2h-1zM510 386h1v1h-1zM1241 311h1v1h-1zM258 142h1v2h-1zM1026 508h1v2h-1zM749 379h1v1h-1zM627 390h1v2h-1zM988 481h1v1h-1zM343 221h1v2h-1zM309 229h1v2h-1zM836 383h1v2h-1zM682 325h1v1h-1zM961 500h1v1h-1zM265 157h1v2h-1zM1022 515h1v1h-1zM1141 465h1v2h-1zM32 76h1v2h-1zM468 350h1v2h-1zM402 261h1v1h-1zM193 128h1v1h-1zM519 378h1v1h-1zM633 400h1v1h-1zM762 400h1v2h-1zM957 496h1v1h-1zM383 238h1v1h-1zM1239 308h1v1h-1zM850 383h1v1h-1zM747 376h1v1h-1zM1121 437h1v1h-1zM972 494h1v1h-1zM1085 492h1v1h-1zM1140 463h1v2h-1zM1143 468h1v2h-1zM527 385h1v1h-1zM953 492h1v2h-1zM691 343h1v2h-1zM1182 437h1v2h-1zM808 375h1v2h-1zM579 408h1v2h-1zM404 263h1v2h-1zM1093 486h1v1h-1zM1173 451h1v1h-1zM598 398h1v2h-1zM514 378h1v1h-1zM716 367h1v2h-1zM719 373h1v1h-1zM894 410h1v2h-1zM1181 439h1v2h-1zM617 379h1v2h-1zM1138 460h1v1h-1zM269 163h1v1h-1zM529 388h1v1h-1zM422 262h1v1h-1zM593 408h1v2h-1zM798 369h1v1h-1zM465 343h1v2h-1zM113 158h1v1h-1zM555 394h1v2h-1zM550 401h1v1h-1zM1006 509h1v1h-1zM1007 510h1v1h-1zM751 381h1v1h-1zM826 411h1v1h-1zM752 382h1v1h-1zM1118 439h1v1h-1zM677 324h1v1h-1zM1186 430h1v1h-1zM267 160h1v1h-1zM883 392h1v1h-1zM1082 494h1v1h-1zM1063 480h1v1h-1zM1064 481h1v1h-1zM1247 314h1v1h-1zM971 495h1v1h-1zM146 125h1v1h-1zM1090 488h1v1h-1zM959 498h1v1h-1zM960 499h1v1h-1zM142 132h1v1h-1zM1008 511h1v1h-1zM1009 512h1v1h-1zM138 139h1v1h-1zM153 118h1v1h-1zM975 491h1v1h-1zM853 385h1v1h-1zM753 383h1v1h-1zM1158 468h1v1h-1zM438 264h1v1h-1zM1039 489h1v1h-1zM1066 483h1v1h-1zM1249 317h1v1h-1zM623 384h1v1h-1z" fill="#ffa500"/><g shape-rendering="crispEdges"><rect x="2" y="236" width="1576" height="2" fill="#ff0000"/><rect x="1" y="234" width="6" height="6" fill="#ff0000"/><rect x="3" y="236" width="2" height="2" fill="#fff"/><rect x="1572" y="234" width="6" height="6" fill="#ff0000"/><rect x="1574" y="236" width="2" height="2" fill="#fff"/><rect x="2" y="307" width="1576" height="2" fill="#ff0000"/><rect x="2" y="362" width="1576" height="2" fill="#00ff00"/><rect x="1" y="360" width="6" height="6" fill="#00ff00"/><rect x="3" y="362" width="2" height="2" fill="#fff"/><rect x="1572" y="360" width="6" height="6" fill="#00ff00"/><rect x="1574" y="362" width="2" height="2" fill="#fff"/><rect x="2" y="433" width="1576" height="2" fill="#0000ff"/><rect x="1" y="431" width="6" height="6" fill="#0000ff"/><rect x="3" y="433" width="2" height="2" fill="#fff"/><rect x="1572" y="431" width="6" height="6" fill="#0000ff"/><rect x="1574" y="433" width="2" height="2" fill="#fff"/><rect x="2" y="491" width="1576" height="2" fill="#0000ff"/><rect x="1" y="489" width="6" height="6" fill="#0000ff"/><rect x="3" y="491" width="2" height="2" fill="#fff"/><rect x="1572" y="489" width="6" height="6" fill="#0000ff"/><rect x="1574" y="491" width="2" height="2" fill="#fff"/><rect x="2" y="542" width="1576" height="2" fill="#0000ff"/><rect x="1" y="540" width="6" height="6" fill="#0000ff"/><rect x="3" y="542" width="2" height="2" fill="#fff"/><rect x="1572" y="540" width="6" height="6" fill="#0000ff"/><rect x="1574" y="542" width="2" height="2" fill="#fff"/></g><g shape-rendering="crispEdges"><line x1="3" y1="585.5" x2="1578" y2="585.5" stroke="#c0c0c0" stroke-width="1" stroke-dasharray="3,3"/><line x1="3" y1="622.5" x2="1578" y2="622.5" stroke="#c0c0c0" stroke-width="1" stroke-dasharray="3,3"/></g><path d="M85 602h2v1h-2zM130 602h2v1h-2zM196 602h2v1h-2zM208 602h2v1h-2zM219 602h2v1h-2zM225 602h2v1h-2zM244 602h2v1h-2zM686 602h3v1h-3zM824 602h2v1h-2zM834 602h3v1h-3zM841 602h4v1h-4zM872 602h2v1h-2zM1034 602h2v1h-2zM1044 602h2v1h-2zM1086 602h3v1h-3zM1093 602h2v1h-2zM25 587h2v1h-2zM1109 587h2v1h-2zM82 603h3v1h-3zM115 603h2v1h-2zM128 603h2v1h-2zM193 603h3v1h-3zM206 603h2v1h-2zM223 603h2v1h-2zM235 603h2v1h-2zM689 603h2v1h-2zM713 603h2v1h-2zM822 603h2v1h-2zM837 603h4v1h-4zM845 603h3v1h-3zM858 603h3v1h-3zM867 603h2v1h-2zM1036 603h2v1h-2zM1041 603h3v1h-3zM1089 603h4v1h-4zM5 612h2v1h-2zM49 612h2v1h-2zM260 612h2v1h-2zM273 612h4v1h-4zM318 612h7v1h-7zM350 612h2v1h-2zM361 612h2v1h-2zM370 612h3v1h-3zM377 612h4v1h-4zM512 612h2v1h-2zM568 612h2v1h-2zM777 612h2v1h-2zM970 612h3v1h-3zM425 608h2v1h-2zM553 608h4v1h-4zM620 608h2v1h-2zM627 608h2v1h-2zM634 608h5v1h-5zM879 608h2v1h-2zM978 608h3v1h-3zM1066 608h3v1h-3zM1073 608h2v1h-2zM1134 608h3v1h-3zM1150 608h2v1h-2zM415 615h2v1h-2zM433 615h3v1h-3zM502 615h3v1h-3zM507 615h2v1h-2zM577 615h2v1h-2zM766 615h5v1h-5zM121 604h7v1h-7zM190 604h3v1h-3zM710 604h3v1h-3zM741 604h4v1h-4zM848 604h2v1h-2zM861 604h6v1h-6zM1038 604h3v1h-3zM1079 604h2v1h-2zM299 622h2v1h-2zM537 622h2v1h-2zM943 622h2v1h-2zM21 588h4v1h-4zM664 588h2v1h-2zM1106 588h3v1h-3zM1195 588h2v1h-2zM1241 588h3v1h-3zM70 597h3v1h-3zM77 597h2v1h-2zM141 597h8v1h-8zM152 597h2v1h-2zM786 597h9v1h-9zM312 610h2v1h-2zM315 610h2v1h-2zM332 610h2v1h-2zM337 610h2v1h-2zM354 610h3v1h-3zM560 610h2v1h-2zM630 610h2v1h-2zM975 610h2v1h-2zM417 616h2v1h-2zM505 616h2v1h-2zM518 616h3v1h-3zM574 616h3v1h-3zM579 616h2v1h-2zM755 616h2v1h-2zM1000 616h2v1h-2zM101 605h2v1h-2zM118 605h3v1h-3zM203 605h2v1h-2zM590 605h5v1h-5zM642 605h3v1h-3zM649 605h2v1h-2zM738 605h3v1h-3zM745 605h2v1h-2zM802 605h3v1h-3zM850 605h2v1h-2zM1145 605h2v1h-2zM54 607h3v1h-3zM251 607h2v1h-2zM422 607h3v1h-3zM550 607h3v1h-3zM622 607h5v1h-5zM639 607h2v1h-2zM705 607h2v1h-2zM735 607h2v1h-2zM981 607h2v1h-2zM1137 607h4v1h-4zM1152 607h2v1h-2zM909 626h8v1h-8zM230 609h2v1h-2zM286 609h5v1h-5zM334 609h3v1h-3zM557 609h3v1h-3zM618 609h2v1h-2zM632 609h2v1h-2zM1018 609h2v1h-2zM1069 609h4v1h-4zM396 619h2v1h-2zM399 619h2v1h-2zM486 619h3v1h-3zM934 619h3v1h-3zM992 619h2v1h-2zM995 619h2v1h-2zM46 611h3v1h-3zM258 611h2v1h-2zM310 611h2v1h-2zM325 611h7v1h-7zM339 611h2v1h-2zM352 611h2v1h-2zM357 611h4v1h-4zM542 611h3v1h-3zM562 611h6v1h-6zM774 611h3v1h-3zM883 611h2v1h-2zM973 611h2v1h-2zM63 601h2v1h-2zM132 601h2v1h-2zM210 601h9v1h-9zM238 601h6v1h-6zM870 601h2v1h-2zM1046 601h3v1h-3zM1095 601h2v1h-2zM447 625h2v1h-2zM928 625h2v1h-2zM949 625h7v1h-7zM168 613h2v1h-2zM262 613h11v1h-11zM277 613h2v1h-2zM373 613h4v1h-4zM381 613h6v1h-6zM410 613h3v1h-3zM510 613h2v1h-2zM718 613h7v1h-7zM751 613h2v1h-2zM763 613h2v1h-2zM886 613h9v1h-9zM535 621h2v1h-2zM941 621h2v1h-2zM1006 621h5v1h-5zM673 585h2v1h-2zM1201 585h3v1h-3zM57 606h2v1h-2zM90 606h11v1h-11zM645 606h4v1h-4zM702 606h3v1h-3zM707 606h2v1h-2zM730 606h3v1h-3zM805 606h2v1h-2zM852 606h2v1h-2zM1141 606h4v1h-4zM1147 606h2v1h-2zM393 618h3v1h-3zM405 618h2v1h-2zM525 618h4v1h-4zM531 618h2v1h-2zM814 618h5v1h-5zM990 618h2v1h-2zM670 584h3v1h-3zM1204 584h2v1h-2zM1226 584h3v1h-3zM281 617h2v1h-2zM390 617h3v1h-3zM402 617h3v1h-3zM521 617h4v1h-4zM529 617h2v1h-2zM581 617h2v1h-2zM998 617h2v1h-2zM134 600h2v1h-2zM178 600h2v1h-2zM1031 600h2v1h-2zM1049 600h6v1h-6zM1167 600h2v1h-2zM66 599h2v1h-2zM136 599h2v1h-2zM180 599h2v1h-2zM606 599h3v1h-3zM694 599h5v1h-5zM1236 590h2v1h-2zM166 614h2v1h-2zM413 614h2v1h-2zM430 614h3v1h-3zM436 614h2v1h-2zM571 614h2v1h-2zM725 614h2v1h-2zM967 614h2v1h-2zM659 591h2v1h-2zM1118 591h3v1h-3zM1234 591h2v1h-2zM1247 591h2v1h-2zM30 593h3v1h-3zM1125 593h2v1h-2zM1250 593h5v1h-5zM452 628h2v1h-2zM457 628h3v1h-3zM921 628h2v1h-2zM937 620h4v1h-4zM68 598h2v1h-2zM73 598h4v1h-4zM138 598h3v1h-3zM154 598h5v1h-5zM182 598h5v1h-5zM609 598h2v1h-2zM1170 598h5v1h-5zM18 589h3v1h-3zM662 589h2v1h-2zM1238 589h3v1h-3zM1244 589h2v1h-2zM454 629h3v1h-3zM460 629h2v1h-2zM667 586h2v1h-2zM1111 586h2v1h-2zM1181 586h2v1h-2zM1198 586h3v1h-3zM926 624h2v1h-2zM946 624h3v1h-3zM956 624h2v1h-2zM961 624h2v1h-2zM305 627h2v1h-2zM450 627h2v1h-2zM493 627h2v1h-2zM906 627h3v1h-3zM917 627h4v1h-4zM149 596h3v1h-3zM795 596h2v1h-2zM1160 596h2v1h-2zM1214 576h3v1h-3zM1220 576h3v1h-3zM1217 577h3v1h-3zM35 595h2v1h-2zM797 595h2v1h-2zM1158 595h2v1h-2zM1186 595h2v1h-2zM469 633h4v1h-4zM1121 592h4v1h-4zM958 623h3v1h-3zM477 635h2v1h-2zM33 594h2v1h-2zM1188 594h2v1h-2zM473 634h4v1h-4zM1211 578h2v1h-2zM1229 583h2v1h-2zM466 632h3v1h-3zM464 631h2v1h-2zM462 630h2v1h-2zM1130 602h1v2h-1zM439 614h1v2h-1zM1184 589h1v3h-1zM902 622h1v1h-1zM442 619h1v1h-1zM601 603h1v1h-1zM1115 585h1v2h-1zM347 616h1v1h-1zM715 605h1v2h-1zM966 615h1v2h-1zM989 616h1v2h-1zM932 622h1v2h-1zM161 604h1v2h-1zM799 596h1v3h-1zM602 604h1v1h-1zM675 587h1v2h-1zM1157 597h1v3h-1zM716 607h1v3h-1zM780 609h1v2h-1zM309 614h1v4h-1zM9 601h1v4h-1zM1077 604h1v1h-1zM187 599h1v2h-1zM1180 588h1v2h-1zM856 605h1v1h-1zM449 626h1v1h-1zM761 613h1v2h-1zM785 599h1v2h-1zM1206 583h1v1h-1zM586 609h1v2h-1zM901 621h1v1h-1zM441 617h1v2h-1zM369 611h1v1h-1zM1156 600h1v2h-1zM727 611h1v2h-1zM830 597h1v1h-1zM1133 607h1v1h-1zM297 619h1v2h-1zM308 618h1v4h-1zM495 625h1v2h-1zM1065 606h1v2h-1zM256 608h1v1h-1zM1023 610h1v2h-1zM1062 601h1v1h-1zM1129 600h1v2h-1zM875 604h1v1h-1zM176 603h1v2h-1zM605 600h1v1h-1zM164 610h1v2h-1zM784 601h1v3h-1zM678 593h1v1h-1zM985 610h1v1h-1zM753 614h1v1h-1zM1163 598h1v1h-1zM1225 581h1v2h-1zM651 602h1v2h-1zM1155 602h1v3h-1zM491 622h1v2h-1zM160 602h1v2h-1zM304 626h1v1h-1zM674 586h1v1h-1zM494 628h1v1h-1zM821 605h1v4h-1zM1030 599h1v1h-1zM1164 599h1v1h-1zM1100 595h1v2h-1zM685 601h1v1h-1zM285 611h1v2h-1zM924 626h1v1h-1zM1098 599h1v1h-1zM175 605h1v2h-1zM666 587h1v1h-1zM1190 593h1v1h-1zM783 604h1v2h-1zM658 592h1v1h-1zM540 615h1v4h-1zM8 605h1v3h-1zM931 624h1v2h-1zM388 615h1v1h-1zM1026 606h1v1h-1zM700 602h1v2h-1zM514 611h1v1h-1zM1015 614h1v2h-1zM255 606h1v2h-1zM885 612h1v1h-1zM904 624h1v2h-1zM1114 584h1v1h-1zM163 608h1v2h-1zM233 605h1v2h-1zM1210 579h1v1h-1zM598 600h1v1h-1zM677 591h1v2h-1zM737 606h1v1h-1zM988 614h1v2h-1zM1117 589h1v2h-1zM833 601h1v1h-1zM1083 605h1v1h-1zM1179 590h1v2h-1zM1126 594h1v1h-1zM596 602h1v2h-1zM585 611h1v2h-1zM691 602h1v1h-1zM490 621h1v1h-1zM365 608h1v1h-1zM798 594h1v1h-1zM12 597h1v1h-1zM1003 616h1v2h-1zM547 611h1v2h-1zM684 599h1v2h-1zM965 617h1v2h-1zM422 608h1v1h-1zM570 613h1v1h-1zM882 610h1v1h-1zM832 599h1v2h-1zM250 608h1v1h-1zM604 601h1v2h-1zM1064 604h1v2h-1zM444 621h1v2h-1zM110 606h1v1h-1zM749 610h1v2h-1zM699 600h1v2h-1zM42 605h1v2h-1zM345 616h1v1h-1zM498 620h1v1h-1zM1076 605h1v2h-1zM1132 605h1v2h-1zM1246 590h1v1h-1zM1194 589h1v1h-1zM39 599h1v2h-1zM1186 594h1v1h-1zM346 617h1v1h-1zM714 604h1v1h-1zM987 612h1v2h-1zM539 619h1v3h-1zM307 622h1v4h-1zM1060 603h1v1h-1zM802 604h1v1h-1zM779 611h1v1h-1zM820 609h1v4h-1zM15 593h1v2h-1zM1021 611h1v1h-1zM1224 579h1v2h-1zM612 600h1v2h-1zM855 606h1v1h-1zM80 600h1v1h-1zM896 615h1v2h-1zM1022 612h1v1h-1zM1025 607h1v2h-1zM409 614h1v1h-1zM1014 616h1v2h-1zM881 609h1v1h-1zM809 610h1v2h-1zM368 609h1v2h-1zM1185 592h1v2h-1zM254 605h1v1h-1zM516 613h1v2h-1zM1154 605h1v2h-1zM1063 602h1v2h-1zM1029 600h1v2h-1zM801 601h1v3h-1zM903 623h1v1h-1zM349 613h1v1h-1zM676 589h1v2h-1zM584 613h1v2h-1zM310 612h1v2h-1zM486 618h1v1h-1zM7 608h1v4h-1zM1128 597h1v3h-1zM27 588h1v2h-1zM174 607h1v2h-1zM489 620h1v1h-1zM364 609h1v2h-1zM782 606h1v2h-1zM60 604h1v1h-1zM492 624h1v2h-1zM228 605h1v2h-1zM314 609h1v1h-1zM52 609h1v2h-1zM284 613h1v2h-1zM114 602h1v1h-1zM964 619h1v2h-1zM159 600h1v2h-1zM421 609h1v2h-1zM493 626h1v1h-1zM87 603h1v1h-1zM117 604h1v1h-1zM485 620h1v3h-1zM588 607h1v1h-1zM733 607h1v1h-1zM1177 593h1v2h-1zM3 608h1v2h-1zM611 599h1v1h-1zM306 626h1v1h-1zM306 628h1v1h-1zM895 614h1v1h-1zM1166 601h1v1h-1zM1002 615h1v1h-1zM257 609h1v2h-1zM994 620h1v1h-1zM41 603h1v2h-1zM1101 593h1v2h-1zM819 613h1v4h-1zM501 616h1v1h-1zM44 608h1v2h-1zM831 598h1v1h-1zM1113 585h1v1h-1zM443 620h1v1h-1zM14 595h1v1h-1zM45 610h1v1h-1zM1231 585h1v2h-1zM1127 595h1v2h-1zM876 605h1v1h-1zM162 606h1v2h-1zM79 598h1v2h-1zM679 594h1v1h-1zM227 603h1v2h-1zM1223 577h1v2h-1zM480 632h1v1h-1zM280 615h1v2h-1zM877 606h1v1h-1zM1097 600h1v1h-1zM869 602h1v1h-1zM1226 583h1v1h-1zM158 599h1v1h-1zM657 593h1v1h-1zM807 607h1v2h-1zM1165 600h1v1h-1zM1005 619h1v2h-1zM2 607h1v1h-1zM652 600h1v2h-1zM420 611h1v3h-1zM1028 602h1v2h-1zM808 609h1v1h-1zM348 614h1v2h-1zM401 618h1v1h-1zM515 612h1v1h-1zM538 623h1v1h-1zM603 603h1v1h-1zM1085 603h1v1h-1zM1233 589h1v2h-1zM1158 596h1v1h-1zM40 601h1v2h-1zM291 610h1v2h-1zM701 604h1v2h-1zM857 604h1v1h-1zM693 600h1v1h-1zM230 610h1v1h-1zM963 621h1v2h-1zM595 604h1v1h-1zM827 600h1v1h-1zM408 615h1v2h-1zM545 612h1v1h-1zM986 611h1v1h-1zM754 615h1v1h-1zM1059 604h1v1h-1zM599 601h1v1h-1zM800 599h1v2h-1zM37 596h1v1h-1zM546 613h1v1h-1zM549 608h1v2h-1zM279 614h1v1h-1zM112 604h1v1h-1zM811 613h1v2h-1zM583 615h1v2h-1zM6 613h1v1h-1zM177 601h1v2h-1zM500 617h1v2h-1zM1004 618h1v1h-1zM389 616h1v1h-1zM253 606h1v1h-1zM51 611h1v1h-1zM43 607h1v1h-1zM283 615h1v2h-1zM1081 605h1v1h-1zM1017 610h1v2h-1zM484 623h1v2h-1zM1176 595h1v1h-1zM747 606h1v2h-1zM17 590h1v2h-1zM905 626h1v1h-1zM445 623h1v1h-1zM1230 584h1v1h-1zM750 612h1v1h-1zM173 609h1v1h-1zM229 607h1v2h-1zM1105 589h1v1h-1zM1191 592h1v1h-1zM29 591h1v2h-1zM446 624h1v1h-1zM81 601h1v2h-1zM541 612h1v3h-1zM1207 582h1v1h-1zM533 619h1v1h-1zM427 609h1v2h-1zM587 608h1v1h-1zM419 614h1v2h-1zM1024 609h1v1h-1zM483 625h1v3h-1zM765 614h1v1h-1zM818 617h1v1h-1zM200 603h1v2h-1zM222 604h1v1h-1zM534 620h1v1h-1zM302 624h1v1h-1zM613 602h1v1h-1zM89 605h1v1h-1zM897 617h1v1h-1zM1222 575h1v1h-1zM655 595h1v1h-1zM5 611h1v1h-1zM614 603h1v1h-1zM772 613h1v1h-1zM898 618h1v1h-1zM104 607h1v2h-1zM62 602h1v1h-1zM479 633h1v2h-1zM293 613h1v2h-1zM1099 597h1v2h-1zM1183 587h1v2h-1zM294 615h1v1h-1zM107 609h1v1h-1zM28 590h1v1h-1zM582 618h1v1h-1zM237 602h1v1h-1zM198 601h1v1h-1zM301 623h1v1h-1zM878 607h1v1h-1zM1027 604h1v2h-1zM199 602h1v1h-1zM734 608h1v1h-1zM282 618h1v1h-1zM1103 591h1v1h-1zM617 607h1v2h-1zM829 598h1v1h-1zM4 610h1v1h-1zM1175 596h1v2h-1zM810 612h1v1h-1zM977 609h1v1h-1zM517 615h1v1h-1zM1084 604h1v1h-1zM1011 620h1v1h-1zM822 604h1v1h-1zM1232 587h1v2h-1zM248 605h1v2h-1zM407 617h1v1h-1zM221 603h1v1h-1zM205 604h1v1h-1zM171 611h1v1h-1zM88 604h1v1h-1zM654 596h1v2h-1zM760 615h1v1h-1zM726 613h1v1h-1zM111 605h1v1h-1zM615 604h1v2h-1zM930 626h1v1h-1zM813 616h1v2h-1zM616 606h1v1h-1zM103 606h1v1h-1zM692 601h1v1h-1zM232 607h1v1h-1zM650 604h1v1h-1zM366 607h1v1h-1zM1061 602h1v1h-1zM748 608h1v2h-1zM13 596h1v1h-1zM482 628h1v2h-1zM16 592h1v1h-1zM38 597h1v2h-1zM969 613h1v1h-1zM548 610h1v1h-1zM730 605h1v1h-1zM680 595h1v1h-1zM11 598h1v1h-1zM429 612h1v2h-1zM669 585h1v1h-1zM923 627h1v1h-1zM681 596h1v1h-1zM1018 608h1v1h-1zM661 590h1v1h-1zM497 621h1v2h-1zM945 623h1v1h-1zM202 606h1v1h-1zM341 612h1v1h-1zM812 615h1v1h-1zM729 607h1v2h-1zM509 614h1v1h-1zM1209 580h1v1h-1zM1075 607h1v1h-1zM1056 602h1v2h-1zM1033 601h1v1h-1zM1193 590h1v1h-1zM61 603h1v1h-1zM899 619h1v1h-1zM342 613h1v1h-1zM1213 577h1v1h-1zM292 612h1v1h-1zM1057 604h1v1h-1zM597 601h1v1h-1zM295 616h1v2h-1zM418 617h1v1h-1zM589 606h1v1h-1zM900 620h1v1h-1zM786 598h1v1h-1zM1082 606h1v1h-1zM106 610h1v1h-1zM398 620h1v1h-1zM296 618h1v1h-1zM653 598h1v2h-1zM717 610h1v2h-1zM600 602h1v1h-1zM854 607h1v1h-1zM874 603h1v1h-1zM718 612h1v1h-1zM1013 618h1v1h-1zM1182 585h1v1h-1zM428 611h1v1h-1zM1162 597h1v1h-1zM771 614h1v1h-1zM828 599h1v1h-1zM189 602h1v2h-1zM201 605h1v1h-1zM303 625h1v1h-1zM933 620h1v2h-1zM481 630h1v2h-1zM53 608h1v1h-1zM109 607h1v1h-1zM246 603h1v1h-1zM1197 587h1v1h-1zM65 600h1v1h-1zM1178 592h1v1h-1zM247 604h1v1h-1zM542 610h1v1h-1zM759 616h1v2h-1zM573 615h1v1h-1zM983 608h1v1h-1zM440 616h1v1h-1zM641 606h1v1h-1zM170 612h1v1h-1zM984 609h1v1h-1zM1102 592h1v1h-1zM1078 603h1v1h-1zM1055 601h1v1h-1zM629 609h1v1h-1zM105 609h1v1h-1zM10 599h1v2h-1zM387 614h1v1h-1zM781 608h1v1h-1zM59 605h1v1h-1zM298 621h1v1h-1zM1181 587h1v1h-1zM496 623h1v2h-1zM113 603h1v1h-1zM1116 587h1v2h-1zM165 612h1v2h-1zM762 612h1v1h-1zM728 609h1v2h-1zM1016 612h1v2h-1zM682 597h1v1h-1zM997 618h1v1h-1zM1249 592h1v1h-1zM683 598h1v1h-1zM231 608h1v1h-1zM1020 610h1v1h-1zM1169 599h1v1h-1zM1208 581h1v1h-1zM925 625h1v1h-1zM826 601h1v1h-1zM363 611h1v1h-1zM249 607h1v1h-1zM1058 605h1v1h-1zM367 608h1v1h-1zM344 615h1v1h-1zM1131 604h1v1h-1zM286 610h1v1h-1zM656 594h1v1h-1zM226 601h1v1h-1zM499 619h1v1h-1zM709 605h1v1h-1zM188 601h1v1h-1zM1192 591h1v1h-1zM962 623h1v1h-1zM108 608h1v1h-1zM317 611h1v1h-1zM234 604h1v1h-1zM757 617h1v1h-1zM172 610h1v1h-1zM1104 590h1v1h-1zM758 618h1v1h-1zM343 614h1v1h-1zM1149 607h1v1h-1zM438 613h1v1h-1zM773 612h1v1h-1zM1012 619h1v1h-1z" fill="#1e90ff"/><g clip-path="url(#cd)" shape-rendering="crispEdges"><rect x="2" y="704" width="1" height="34" fill="#c0c0c0"/><rect x="6" y="704" width="1" height="32" fill="#c0c0c0"/><rect x="10" y="704" width="1" height="25" fill="#c0c0c0"/><rect x="14" y="704" width="1" height="16" fill="#c0c0c0"/><rect x="18" y="704" width="1" height="4" fill="#c0c0c0"/><rect x="22" y="698" width="1" height="6" fill="#c0c0c0"/><rect x="26" y="690" width="1" height="14" fill="#c0c0c0"/><rect x="30" y="685" width="1" height="19" fill="#c0c0c0"/><rect x="34" y="683" width="1" height="21" fill="#c0c0c0"/><rect x="38" y="682" width="1" height="22" fill="#c0c0c0"/><rect x="42" y="687" width="1" height="17" fill="#c0c0c0"/><rect x="46" y="694" width="1" height="10" fill="#c0c0c0"/><rect x="50" y="701" width="1" height="3" fill="#c0c0c0"/><rect x="54" y="704" width="1" height="1" fill="#c0c0c0"/><rect x="58" y="704" width="1" height="1" fill="#c0c0c0"/><rect x="62" y="704" width="1" height="1" fill="#c0c0c0"/><rect x="66" y="701" width="1" height="3" fill="#c0c0c0"/><rect x="70" y="698" width="1" height="6" fill="#c0c0c0"/><rect x="74" y="695" width="1" height="9" fill="#c0c0c0"/><rect x="78" y="693" width="1" height="11" fill="#c0c0c0"/><rect x="82" y="694" width="1" height="10" fill="#c0c0c0"/><rect x="86" y="695" width="1" height="9" fill="#c0c0c0"/><rect x="90" y="698" width="1" height="6" fill="#c0c0c0"/><rect x="94" y="700" width="1" height="4" fill="#c0c0c0"/><rect x="98" y="702" width="1" height="2" fill="#c0c0c0"/><rect x="102" y="702" width="1" height="2" fill="#c0c0c0"/><rect x="106" y="704" width="1" height="2" fill="#c0c0c0"/><rect x="110" y="704" width="1" height="2" fill="#c0c0c0"/><rect x="114" y="704" width="1" height="1" fill="#c0c0c0"/><rect x="118" y="704" width="1" height="2" fill="#c0c0c0"/><rect x="122" y="704" width="1" height="2" fill="#c0c0c0"/><rect x="126" y="704" width="1" height="1" fill="#c0c0c0"/><rect x="130" y="704" width="1" height="1" fill="#c0c0c0"/><rect x="134" y="703" width="1" height="1" fill="#c0c0c0"/><rect x="138" y="701" width="1" height="3" fill="#c0c0c0"/><rect x="142" y="699" width="1" height="5" fill="#c0c0c0"/><rect x="146" y="698" width="1" height="6" fill="#c0c0c0"/><rect x="150" y="697" width="1" height="7" fill="#c0c0c0"/><rect x="154" y="696" width="1" height="8" fill="#c0c0c0"/><rect x="158" y="696" width="1" height="8" fill="#c0c0c0"/><rect x="162" y="698" width="1" height="6" fill="#c0c0c0"/><rect x="166" y="703" width="1" height="1" fill="#c0c0c0"/><rect x="170" y="704" width="1" height="2" fill="#c0c0c0"/><rect x="174" y="704" width="1" height="3" fill="#c0c0c0"/><rect x="178" y="704" width="1" height="1" fill="#c0c0c0"/><rect x="182" y="703" width="1" height="1" fill="#c0c0c0"/><rect x="186" y="702" width="1" height="2" fill="#c0c0c0"/><rect x="190" y="702" width="1" height="2" fill="#c0c0c0"/><rect x="194" y="702" width="1" height="2" fill="#c0c0c0"/><rect x="198" y="702" width="1" height="2" fill="#c0c0c0"/><rect x="202" y="703" width="1" height="1" fill="#c0c0c0"/><rect x="206" y="703" width="1" height="1" fill="#c0c0c0"/><rect x="210" y="702" width="1" height="2" fill="#c0c0c0"/><rect x="214" y="702" width="1" height="2" fill="#c0c0c0"/><rect x="218" y="701" width="1" height="3" fill="#c0c0c0"/><rect x="222" y="702" width="1" height="2" fill="#c0c0c0"/><rect x="226" y="702" width="1" height="2" fill="#c0c0c0"/><rect x="230" y="704" width="1" height="1" fill="#c0c0c0"/><rect x="234" y="704" width="1" height="1" fill="#c0c0c0"/><rect x="238" y="704" width="1" height="1" fill="#c0c0c0"/><rect x="242" y="703" width="1" height="1" fill="#c0c0c0"/><rect x="246" y="703" width="1" height="1" fill="#c0c0c0"/><rect x="250" y="704" width="1" height="1" fill="#c0c0c0"/><rect x="254" y="704" width="1" height="1" fill="#c0c0c0"/><rect x="258" y="704" width="1" height="3" fill="#c0c0c0"/><rect x="262" y="704" width="1" height="6" fill="#c0c0c0"/><rect x="266" y="704" width="1" height="8" fill="#c0c0c0"/><rect x="270" y="704" width="1" height="9" fill="#c0c0c0"/><rect x="274" y="704" width="1" height="10" fill="#c0c0c0"/><rect x="278" y="704" width="1" height="11" fill="#c0c0c0"/><rect x="282" y="704" width="1" height="13" fill="#c0c0c0"/><rect x="286" y="704" width="1" height="13" fill="#c0c0c0"/><rect x="290" y="704" width="1" height="13" fill="#c0c0c0"/><rect x="294" y="704" width="1" height="14" fill="#c0c0c0"/><rect x="298" y="704" width="1" height="18" fill="#c0c0c0"/><rect x="302" y="704" width="1" height="22" fill="#c0c0c0"/><rect x="306" y="704" width="1" height="28" fill="#c0c0c0"/><rect x="310" y="704" width="1" height="27" fill="#c0c0c0"/><rect x="314" y="704" width="1" height="25" fill="#c0c0c0"/><rect x="318" y="704" width="1" height="25" fill="#c0c0c0"/><rect x="322" y="704" width="1" height="25" fill="#c0c0c0"/><rect x="326" y="704" width="1" height="23" fill="#c0c0c0"/><rect x="330" y="704" width="1" height="22" fill="#c0c0c0"/><rect x="334" y="704" width="1" height="21" fill="#c0c0c0"/><rect x="338" y="704" width="1" height="20" fill="#c0c0c0"/><rect x="342" y="704" width="1" height="20" fill="#c0c0c0"/><rect x="346" y="704" width="1" height="22" fill="#c0c0c0"/><rect x="350" y="704" width="1" height="21" fill="#c0c0c0"/><rect x="354" y="704" width="1" height="20" fill="#c0c0c0"/><rect x="358" y="704" width="1" height="19" fill="#c0c0c0"/><rect x="362" y="704" width="1" height="19" fill="#c0c0c0"/><rect x="366" y="704" width="1" height="17" fill="#c0c0c0"/><rect x="370" y="704" width="1" height="17" fill="#c0c0c0"/><rect x="374" y="704" width="1" height="17" fill="#c0c0c0"/><rect x="378" y="704" width="1" height="16" fill="#c0c0c0"/><rect x="382" y="704" width="1" height="16" fill="#c0c0c0"/><rect x="386" y="704" width="1" height="16" fill="#c0c0c0"/><rect x="390" y="704" width="1" height="17" fill="#c0c0c0"/><rect x="394" y="704" width="1" height="18" fill="#c0c0c0"/><rect x="398" y="704" width="1" height="19" fill="#c0c0c0"/><rect x="402" y="704" width="1" height="20" fill="#c0c0c0"/><rect x="406" y="704" width="1" height="20" fill="#c0c0c0"/><rect x="410" y="704" width="1" height="19" fill="#c0c0c0"/><rect x="414" y="704" width="1" height="18" fill="#c0c0c0"/><rect x="418" y="704" width="1" height="18" fill="#c0c0c0"/><rect x="422" y="704" width="1" height="16" fill="#c0c0c0"/><rect x="426" y="704" width="1" height="15" fill="#c0c0c0"/><rect x="430" y="704" width="1" height="15" fill="#c0c0c0"/><rect x="434" y="704" width="1" height="15" fill="#c0c0c0"/><rect x="438" y="704" width="1" height="15" fill="#c0c0c0"/><rect x="442" y="704" width="1" height="17" fill="#c0c0c0"/><rect x="446" y="704" width="1" height="19" fill="#c0c0c0"/><rect x="450" y="704" width="1" height="23" fill="#c0c0c0"/><rect x="454" y="704" width="1" height="26" fill="#c0c0c0"/><rect x="458" y="704" width="1" height="29" fill="#c0c0c0"/><rect x="462" y="704" width="1" height="31" fill="#c0c0c0"/><rect x="466" y="704" width="1" height="34" fill="#c0c0c0"/><rect x="470" y="704" width="1" height="36" fill="#c0c0c0"/><rect x="474" y="704" width="1" height="39" fill="#c0c0c0"/><rect x="478" y="704" width="1" height="41" fill="#c0c0c0"/><rect x="482" y="704" width="1" height="41" fill="#c0c0c0"/><rect x="486" y="704" width="1" height="38" fill="#c0c0c0"/><rect x="490" y="704" width="1" height="37" fill="#c0c0c0"/><rect x="494" y="704" width="1" height="40" fill="#c0c0c0"/><rect x="498" y="704" width="1" height="40" fill="#c0c0c0"/><rect x="502" y="704" width="1" height="38" fill="#c0c0c0"/><rect x="506" y="704" width="1" height="36" fill="#c0c0c0"/><rect x="510" y="704" width="1" height="33" fill="#c0c0c0"/><rect x="514" y="704" width="1" height="31" fill="#c0c0c0"/><rect x="518" y="704" width="1" height="30" fill="#c0c0c0"/><rect x="522" y="704" width="1" height="30" fill="#c0c0c0"/><rect x="526" y="704" width="1" height="30" fill="#c0c0c0"/><rect x="530" y="704" width="1" height="29" fill="#c0c0c0"/><rect x="534" y="704" width="1" height="29" fill="#c0c0c0"/><rect x="538" y="704" width="1" height="31" fill="#c0c0c0"/><rect x="542" y="704" width="1" height="28" fill="#c0c0c0"/><rect x="546" y="704" width="1" height="27" fill="#c0c0c0"/><rect x="550" y="704" width="1" height="24" fill="#c0c0c0"/><rect x="554" y="704" width="1" height="21" fill="#c0c0c0"/><rect x="558" y="704" width="1" height="20" fill="#c0c0c0"/><rect x="562" y="704" width="1" height="19" fill="#c0c0c0"/><rect x="566" y="704" width="1" height="19" fill="#c0c0c0"/><rect x="570" y="704" width="1" height="18" fill="#c0c0c0"/><rect x="574" y="704" width="1" height="19" fill="#c0c0c0"/><rect x="578" y="704" width="1" height="19" fill="#c0c0c0"/><rect x="582" y="704" width="1" height="20" fill="#c0c0c0"/><rect x="586" y="704" width="1" height="19" fill="#c0c0c0"/><rect x="590" y="704" width="1" height="16" fill="#c0c0c0"/><rect x="594" y="704" width="1" height="14" fill="#c0c0c0"/><rect x="598" y="704" width="1" height="11" fill="#c0c0c0"/><rect x="602" y="704" width="1" height="9" fill="#c0c0c0"/><rect x="606" y="704" width="1" height="6" fill="#c0c0c0"/><rect x="610" y="704" width="1" height="4" fill="#c0c0c0"/><rect x="614" y="704" width="1" height="3" fill="#c0c0c0"/><rect x="618" y="704" width="1" height="4" fill="#c0c0c0"/><rect x="622" y="704" width="1" height="5" fill="#c0c0c0"/><rect x="626" y="704" width="1" height="5" fill="#c0c0c0"/><rect x="630" y="704" width="1" height="6" fill="#c0c0c0"/><rect x="634" y="704" width="1" height="6" fill="#c0c0c0"/><rect x="638" y="704" width="1" height="6" fill="#c0c0c0"/><rect x="642" y="704" width="1" height="6" fill="#c0c0c0"/><rect x="646" y="704" width="1" height="6" fill="#c0c0c0"/><rect x="650" y="704" width="1" height="5" fill="#c0c0c0"/><rect x="654" y="704" width="1" height="2" fill="#c0c0c0"/><rect x="658" y="703" width="1" height="1" fill="#c0c0c0"/><rect x="662" y="699" width="1" height="5" fill="#c0c0c0"/><rect x="666" y="695" width="1" height="9" fill="#c0c0c0"/><rect x="670" y="691" width="1" height="13" fill="#c0c0c0"/><rect x="674" y="688" width="1" height="16" fill="#c0c0c0"/><rect x="678" y="687" width="1" height="17" fill="#c0c0c0"/><rect x="682" y="688" width="1" height="16" fill="#c0c0c0"/><rect x="686" y="690" width="1" height="14" fill="#c0c0c0"/><rect x="690" y="692" width="1" height="12" fill="#c0c0c0"/><rect x="694" y="693" width="1" height="11" fill="#c0c0c0"/><rect x="698" y="693" width="1" height="11" fill="#c0c0c0"/><rect x="702" y="696" width="1" height="8" fill="#c0c0c0"/><rect x="706" y="698" width="1" height="6" fill="#c0c0c0"/><rect x="710" y="699" width="1" height="5" fill="#c0c0c0"/><rect x="714" y="700" width="1" height="4" fill="#c0c0c0"/><rect x="718" y="703" width="1" height="1" fill="#c0c0c0"/><rect x="722" y="704" width="1" height="2" fill="#c0c0c0"/><rect x="726" y="704" width="1" height="4" fill="#c0c0c0"/><rect x="730" y="704" width="1" height="4" fill="#c0c0c0"/><rect x="734" y="704" width="1" height="5" fill="#c0c0c0"/><rect x="738" y="704" width="1" height="4" fill="#c0c0c0"/><rect x="742" y="704" width="1" height="4" fill="#c0c0c0"/><rect x="746" y="704" width="1" height="4" fill="#c0c0c0"/><rect x="750" y="704" width="1" height="5" fill="#c0c0c0"/><rect x="754" y="704" width="1" height="8" fill="#c0c0c0"/><rect x="758" y="704" width="1" height="10" fill="#c0c0c0"/><rect x="762" y="704" width="1" height="11" fill="#c0c0c0"/><rect x="766" y="704" width="1" height="12" fill="#c0c0c0"/><rect x="770" y="704" width="1" height="13" fill="#c0c0c0"/><rect x="774" y="704" width="1" height="13" fill="#c0c0c0"/><rect x="778" y="704" width="1" height="13" fill="#c0c0c0"/><rect x="782" y="704" width="1" height="12" fill="#c0c0c0"/><rect x="786" y="704" width="1" height="8" fill="#c0c0c0"/><rect x="790" y="704" width="1" height="5" fill="#c0c0c0"/><rect x="794" y="704" width="1" height="3" fill="#c0c0c0"/><rect x="798" y="704" width="1" height="1" fill="#c0c0c0"/><rect x="802" y="704" width="1" height="1" fill="#c0c0c0"/><rect x="806" y="704" width="1" height="1" fill="#c0c0c0"/><rect x="810" y="704" width="1" height="3" fill="#c0c0c0"/><rect x="814" y="704" width="1" height="7" fill="#c0c0c0"/><rect x="818" y="704" width="1" height="11" fill="#c0c0c0"/><rect x="822" y="704" width="1" height="9" fill="#c0c0c0"/><rect x="826" y="704" width="1" height="7" fill="#c0c0c0"/><rect x="830" y="704" width="1" height="3" fill="#c0c0c0"/><rect x="834" y="704" width="1" height="2" fill="#c0c0c0"/><rect x="838" y="704" width="1" height="1" fill="#c0c0c0"/><rect x="842" y="704" width="1" height="1" fill="#c0c0c0"/><rect x="846" y="704" width="1" height="1" fill="#c0c0c0"/><rect x="850" y="704" width="1" height="1" fill="#c0c0c0"/><rect x="854" y="704" width="1" height="2" fill="#c0c0c0"/><rect x="858" y="704" width="1" height="1" fill="#c0c0c0"/><rect x="862" y="704" width="1" height="1" fill="#c0c0c0"/><rect x="866" y="704" width="1" height="1" fill="#c0c0c0"/><rect x="870" y="704" width="1" height="1" fill="#c0c0c0"/><rect x="874" y="704" width="1" height="1" fill="#c0c0c0"/><rect x="878" y="704" width="1" height="1" fill="#c0c0c0"/><rect x="882" y="704" width="1" height="3" fill="#c0c0c0"/><rect x="886" y="704" width="1" height="5" fill="#c0c0c0"/><rect x="890" y="704" width="1" height="6" fill="#c0c0c0"/><rect x="894" y="704" width="1" height="7" fill="#c0c0c0"/><rect x="898" y="704" width="1" height="10" fill="#c0c0c0"/><rect x="902" y="704" width="1" height="13" fill="#c0c0c0"/><rect x="906" y="704" width="1" height="18" fill="#c0c0c0"/><rect x="910" y="704" width="1" height="21" fill="#c0c0c0"/><rect x="914" y="704" width="1" height="23" fill="#c0c0c0"/><rect x="918" y="704" width="1" height="26" fill="#c0c0c0"/><rect x="922" y="704" width="1" height="27" fill="#c0c0c0"/><rect x="926" y="704" width="1" height="28" fill="#c0c0c0"/><rect x="930" y="704" width="1" height="29" fill="#c0c0c0"/><rect x="934" y="704" width="1" height="28" fill="#c0c0c0"/><rect x="938" y="704" width="1" height="28" fill="#c0c0c0"/><rect x="942" y="704" width="1" height="27" fill="#c0c0c0"/><rect x="946" y="704" width="1" height="27" fill="#c0c0c0"/><rect x="950" y="704" width="1" height="28" fill="#c0c0c0"/><rect x="954" y="704" width="1" height="28" fill="#c0c0c0"/><rect x="958" y="704" width="1" height="28" fill="#c0c0c0"/><rect x="962" y="704" width="1" height="28" fill="#c0c0c0"/><rect x="966" y="704" width="1" height="26" fill="#c0c0c0"/><rect x="970" y="704" width="1" height="23" fill="#c0c0c0"/><rect x="974" y="704" width="1" height="21" fill="#c0c0c0"/><rect x="978" y="704" width="1" height="19" fill="#c0c0c0"/><rect x="982" y="704" width="1" height="17" fill="#c0c0c0"/><rect x="986" y="704" width="1" height="15" fill="#c0c0c0"/><rect x="990" y="704" width="1" height="16" fill="#c0c0c0"/><rect x="994" y="704" width="1" height="17" fill="#c0c0c0"/><rect x="998" y="704" width="1" height="17" fill="#c0c0c0"/><rect x="1002" y="704" width="1" height="17" fill="#c0c0c0"/><rect x="1006" y="704" width="1" height="18" fill="#c0c0c0"/><rect x="1010" y="704" width="1" height="19" fill="#c0c0c0"/><rect x="1014" y="704" width="1" height="19" fill="#c0c0c0"/><rect x="1018" y="704" width="1" height="17" fill="#c0c0c0"/><rect x="1022" y="704" width="1" height="17" fill="#c0c0c0"/><rect x="1026" y="704" width="1" height="15" fill="#c0c0c0"/><rect x="1030" y="704" width="1" height="11" fill="#c0c0c0"/><rect x="1034" y="704" width="1" height="9" fill="#c0c0c0"/><rect x="1038" y="704" width="1" height="8" fill="#c0c0c0"/><rect x="1042" y="704" width="1" height="6" fill="#c0c0c0"/><rect x="1046" y="704" width="1" height="5" fill="#c0c0c0"/><rect x="1050" y="704" width="1" height="3" fill="#c0c0c0"/><rect x="1054" y="704" width="1" height="2" fill="#c0c0c0"/><rect x="1058" y="704" width="1" height="2" fill="#c0c0c0"/><rect x="1062" y="704" width="1" height="1" fill="#c0c0c0"/><rect x="1066" y="704" width="1" height="2" fill="#c0c0c0"/><rect x="1070" y="704" width="1" height="3" fill="#c0c0c0"/><rect x="1074" y="704" width="1" height="3" fill="#c0c0c0"/><rect x="1078" y="704" width="1" height="3" fill="#c0c0c0"/><rect x="1082" y="704" width="1" height="3" fill="#c0c0c0"/><rect x="1086" y="704" width="1" height="2" fill="#c0c0c0"/><rect x="1090" y="704" width="1" height="2" fill="#c0c0c0"/><rect x="1094" y="704" width="1" height="1" fill="#c0c0c0"/><rect x="1098" y="704" width="1" height="1" fill="#c0c0c0"/><rect x="1102" y="702" width="1" height="2" fill="#c0c0c0"/><rect x="1106" y="698" width="1" height="6" fill="#c0c0c0"/><rect x="1110" y="696" width="1" height="8" fill="#c0c0c0"/><rect x="1114" y="693" width="1" height="11" fill="#c0c0c0"/><rect x="1118" y="691" width="1" height="13" fill="#c0c0c0"/><rect x="1122" y="691" width="1" height="13" fill="#c0c0c0"/><rect x="1126" y="691" width="1" height="13" fill="#c0c0c0"/><rect x="1130" y="693" width="1" height="11" fill="#c0c0c0"/><rect x="1134" y="696" width="1" height="8" fill="#c0c0c0"/><rect x="1138" y="698" width="1" height="6" fill="#c0c0c0"/><rect x="1142" y="699" width="1" height="5" fill="#c0c0c0"/><rect x="1146" y="700" width="1" height="4" fill="#c0c0c0"/><rect x="1150" y="702" width="1" height="2" fill="#c0c0c0"/><rect x="1154" y="703" width="1" height="1" fill="#c0c0c0"/><rect x="1158" y="701" width="1" height="3" fill="#c0c0c0"/><rect x="1162" y="700" width="1" height="4" fill="#c0c0c0"/><rect x="1166" y="700" width="1" height="4" fill="#c0c0c0"/><rect x="1170" y="699" width="1" height="5" fill="#c0c0c0"/><rect x="1174" y="699" width="1" height="5" fill="#c0c0c0"/><rect x="1178" y="697" width="1" height="7" fill="#c0c0c0"/><rect x="1182" y="693" width="1" height="11" fill="#c0c0c0"/><rect x="1186" y="692" width="1" height="12" fill="#c0c0c0"/><rect x="1190" y="690" width="1" height="14" fill="#c0c0c0"/><rect x="1194" y="688" width="1" height="16" fill="#c0c0c0"/><rect x="1198" y="685" width="1" height="19" fill="#c0c0c0"/><rect x="1202" y="682" width="1" height="22" fill="#c0c0c0"/><rect x="1206" y="679" width="1" height="25" fill="#c0c0c0"/><rect x="1210" y="675" width="1" height="29" fill="#c0c0c0"/><rect x="1214" y="669" width="1" height="35" fill="#c0c0c0"/><rect x="1218" y="665" width="1" height="39" fill="#c0c0c0"/><rect x="1222" y="661" width="1" height="43" fill="#c0c0c0"/><rect x="1226" y="660" width="1" height="44" fill="#c0c0c0"/><rect x="1230" y="659" width="1" height="45" fill="#c0c0c0"/><rect x="1234" y="662" width="1" height="42" fill="#c0c0c0"/><rect x="1238" y="662" width="1" height="42" fill="#c0c0c0"/><rect x="1242" y="663" width="1" height="41" fill="#c0c0c0"/><rect x="1246" y="665" width="1" height="39" fill="#c0c0c0"/><rect x="1250" y="668" width="1" height="36" fill="#c0c0c0"/><rect x="1254" y="670" width="1" height="34" fill="#c0c0c0"/></g><path d="M72 698h2v1h-2zM89 698h3v1h-3zM95 698h2v1h-2zM1122 698h2v1h-2zM1157 698h3v1h-3zM1187 698h2v1h-2zM66 696h2v1h-2zM1128 696h2v1h-2zM1151 696h2v1h-2zM125 704h3v1h-3zM143 704h2v1h-2zM197 704h3v1h-3zM203 704h2v1h-2zM257 704h3v1h-3zM737 704h3v1h-3zM131 705h3v1h-3zM137 705h3v1h-3zM263 705h2v1h-2zM863 705h3v1h-3zM869 705h3v1h-3zM875 705h3v1h-3zM881 705h3v1h-3zM48 693h2v1h-2zM60 693h2v1h-2zM1200 693h2v1h-2zM275 708h2v1h-2zM659 708h2v1h-2zM750 708h2v1h-2zM755 708h2v1h-2zM815 708h3v1h-3zM821 708h3v1h-3zM827 708h3v1h-3zM845 708h3v1h-3zM851 708h2v1h-2zM899 708h2v1h-2zM1067 708h2v1h-2zM629 710h3v1h-3zM761 710h3v1h-3zM695 691h3v1h-3zM701 691h3v1h-3zM282 711h2v1h-2zM767 711h2v1h-2zM803 711h2v1h-2zM906 711h2v1h-2zM191 703h3v1h-3zM209 703h3v1h-3zM233 703h3v1h-3zM239 703h3v1h-3zM245 703h3v1h-3zM251 703h3v1h-3zM671 703h2v1h-2zM1110 703h2v1h-2zM713 694h3v1h-3zM1133 694h3v1h-3zM1139 694h3v1h-3zM612 716h2v1h-2zM173 700h3v1h-3zM726 700h2v1h-2zM1169 700h3v1h-3zM1175 700h3v1h-3zM665 706h3v1h-3zM743 706h3v1h-3zM857 706h3v1h-3zM887 706h3v1h-3zM1085 706h3v1h-3zM1091 706h3v1h-3zM1097 706h3v1h-3zM1103 706h2v1h-2zM311 722h2v1h-2zM383 722h2v1h-2zM407 722h3v1h-3zM413 722h3v1h-3zM419 722h3v1h-3zM425 722h3v1h-3zM431 722h2v1h-2zM455 722h2v1h-2zM593 722h3v1h-3zM924 722h2v1h-2zM1001 722h3v1h-3zM635 709h3v1h-3zM641 709h3v1h-3zM647 709h3v1h-3zM653 709h3v1h-3zM809 709h3v1h-3zM833 709h3v1h-3zM839 709h3v1h-3zM1062 709h2v1h-2zM329 728h3v1h-3zM335 728h3v1h-3zM467 728h2v1h-2zM935 728h2v1h-2zM983 728h2v1h-2zM389 721h3v1h-3zM395 721h3v1h-3zM401 721h3v1h-3zM437 721h3v1h-3zM449 721h3v1h-3zM599 721h2v1h-2zM1007 721h3v1h-3zM1013 721h3v1h-3zM1019 721h3v1h-3zM1025 721h3v1h-3zM1031 721h2v1h-2zM341 727h3v1h-3zM569 727h3v1h-3zM77 699h3v1h-3zM83 699h3v1h-3zM108 699h2v1h-2zM161 699h3v1h-3zM167 699h3v1h-3zM1163 699h2v1h-2zM1181 699h3v1h-3zM558 730h2v1h-2zM941 730h3v1h-3zM491 740h2v1h-2zM287 712h2v1h-2zM623 712h2v1h-2zM1055 712h2v1h-2zM119 702h2v1h-2zM149 702h3v1h-3zM185 702h3v1h-3zM215 702h3v1h-3zM221 702h3v1h-3zM227 702h3v1h-3zM732 702h2v1h-2zM1247 663h3v1h-3zM1253 663h2v1h-2zM53 692h3v1h-3zM690 692h2v1h-2zM707 692h2v1h-2zM947 731h3v1h-3zM965 731h3v1h-3zM971 731h2v1h-2zM269 707h3v1h-3zM893 707h3v1h-3zM1073 707h3v1h-3zM1079 707h2v1h-2zM101 697h3v1h-3zM720 697h2v1h-2zM539 735h2v1h-2zM1223 676h2v1h-2zM317 724h3v1h-3zM365 724h3v1h-3zM581 724h3v1h-3zM995 724h2v1h-2zM323 726h2v1h-2zM347 726h3v1h-3zM353 726h3v1h-3zM575 726h2v1h-2zM930 726h2v1h-2zM563 729h2v1h-2zM977 729h3v1h-3zM617 714h3v1h-3zM779 714h2v1h-2zM911 714h2v1h-2zM1050 714h2v1h-2zM294 715h2v1h-2zM785 715h3v1h-3zM791 715h2v1h-2zM371 723h3v1h-3zM377 723h3v1h-3zM587 723h3v1h-3zM527 738h2v1h-2zM300 717h2v1h-2zM1043 717h2v1h-2zM497 742h3v1h-3zM509 742h3v1h-3zM480 736h2v1h-2zM533 736h3v1h-3zM605 719h3v1h-3zM1037 719h3v1h-3zM515 741h2v1h-2zM113 701h3v1h-3zM155 701h2v1h-2zM179 701h3v1h-3zM1116 701h2v1h-2zM486 739h2v1h-2zM521 739h3v1h-3zM773 713h3v1h-3zM797 713h3v1h-3zM1236 667h2v1h-2zM545 733h3v1h-3zM551 733h2v1h-2zM953 732h3v1h-3zM959 732h3v1h-3zM503 743h3v1h-3zM359 725h2v1h-2zM462 725h2v1h-2zM990 725h2v1h-2zM684 695h2v1h-2zM1145 695h3v1h-3zM1194 695h2v1h-2zM6 744h2v1h-2zM306 720h2v1h-2zM443 720h3v1h-3zM1211 686h2v1h-2zM1242 664h2v1h-2zM461 724h1v1h-1zM1045 716h1v1h-1zM725 699h1v1h-1zM1127 697h1v1h-1zM107 698h1v1h-1zM205 703h1v1h-1zM805 710h1v1h-1zM361 724h1v1h-1zM565 728h1v1h-1zM1057 711h1v1h-1zM277 709h1v1h-1zM1105 705h1v1h-1zM29 717h1v1h-1zM313 723h1v1h-1zM577 725h1v1h-1zM305 719h1v1h-1zM1207 689h1v1h-1zM1049 715h1v1h-1zM433 721h1v1h-1zM673 702h1v1h-1zM1205 691h1v1h-1zM677 700h1v1h-1zM731 701h1v1h-1zM985 727h1v1h-1zM27 721h1v2h-1zM1189 697h1v1h-1zM769 712h1v1h-1zM14 739h1v1h-1zM1115 702h1v1h-1zM59 692h1v1h-1zM1121 699h1v1h-1zM541 734h1v1h-1zM281 710h1v1h-1zM709 693h1v1h-1zM35 709h1v1h-1zM385 721h1v1h-1zM973 730h1v1h-1zM989 726h1v1h-1zM1153 697h1v1h-1zM1199 694h1v1h-1zM24 727h1v1h-1zM293 714h1v1h-1zM485 738h1v1h-1zM661 707h1v1h-1zM1193 696h1v1h-1zM1206 690h1v1h-1zM43 697h1v1h-1zM23 728h1v2h-1zM997 723h1v1h-1zM529 737h1v1h-1zM1241 665h1v1h-1zM47 694h1v1h-1zM719 696h1v1h-1zM42 698h1v1h-1zM1061 710h1v1h-1zM917 717h1v1h-1zM611 717h1v1h-1zM1109 704h1v1h-1zM937 729h1v1h-1zM457 723h1v1h-1zM38 703h1v1h-1zM97 697h1v1h-1zM1081 706h1v1h-1zM299 716h1v1h-1zM473 731h1v1h-1zM37 704h1v2h-1zM517 740h1v1h-1zM1069 707h1v1h-1zM65 695h1v1h-1zM1033 720h1v1h-1zM853 707h1v1h-1zM121 703h1v1h-1zM474 732h1v1h-1zM757 709h1v1h-1zM918 718h1v1h-1zM12 741h1v1h-1zM793 714h1v1h-1zM913 715h1v1h-1zM919 719h1v1h-1zM34 710h1v1h-1zM1235 668h1v1h-1zM781 715h1v1h-1zM469 729h1v1h-1zM475 733h1v1h-1zM601 720h1v1h-1zM33 711h1v1h-1zM1225 675h1v1h-1zM1230 671h1v1h-1zM1231 670h1v1h-1zM265 706h1v1h-1zM157 700h1v1h-1zM901 709h1v1h-1zM929 725h1v1h-1zM41 699h1v1h-1zM1229 672h1v1h-1zM1213 685h1v1h-1zM1165 700h1v1h-1zM1218 681h1v1h-1zM1219 680h1v1h-1zM71 697h1v1h-1zM479 735h1v1h-1zM923 721h1v1h-1zM683 696h1v1h-1zM31 715h1v1h-1zM1217 682h1v1h-1zM2 743h1v1h-1zM13 740h1v1h-1zM20 733h1v1h-1zM30 716h1v1h-1zM145 703h1v1h-1zM553 732h1v1h-1zM678 699h1v1h-1zM679 698h1v1h-1zM19 734h1v1h-1zM8 743h1v1h-1zM689 693h1v1h-1zM749 707h1v1h-1zM289 713h1v1h-1zM18 735h1v1h-1zM625 711h1v1h-1zM325 727h1v1h-1zM905 710h1v1h-1zM26 723h1v1h-1zM493 741h1v1h-1zM557 731h1v1h-1z" fill="#ff0000"/><polygon points="1257,27 1266,27 1261.5,32" fill="#c0c0c0"/><g fill="#000" shape-rendering="crispEdges"><rect x="1" y="26" width="1578" height="1"/><rect x="1" y="553" width="1578" height="1"/><rect x="1" y="555" width="1578" height="1"/><rect x="1" y="651" width="1578" height="1"/><rect x="1" y="653" width="1578" height="1"/><rect x="1" y="749" width="1578" height="1"/><rect x="1" y="26" width="1" height="724"/><rect x="1578" y="26" width="1" height="724"/></g><g font-family="Liberation Sans" font-size="9px" fill="#000"><rect x="1579" y="55" width="2" height="1"/><text x="1584" y="59" font-size="9.5px" fill="#000" stroke="#000" stroke-width="0.25" textLength="32.6" lengthAdjust="spacingAndGlyphs">0.98900</text><rect x="1579" y="88" width="2" height="1"/><text x="1584" y="92" font-size="9.5px" fill="#000" stroke="#000" stroke-width="0.25" textLength="32.6" lengthAdjust="spacingAndGlyphs">0.98140</text><rect x="1579" y="121" width="2" height="1"/><text x="1584" y="125" font-size="9.5px" fill="#000" stroke="#000" stroke-width="0.25" textLength="32.6" lengthAdjust="spacingAndGlyphs">0.97360</text><rect x="1579" y="154" width="2" height="1"/><text x="1584" y="158" font-size="9.5px" fill="#000" stroke="#000" stroke-width="0.25" textLength="32.6" lengthAdjust="spacingAndGlyphs">0.96600</text><rect x="1579" y="187" width="2" height="1"/><text x="1584" y="191" font-size="9.5px" fill="#000" stroke="#000" stroke-width="0.25" textLength="32.6" lengthAdjust="spacingAndGlyphs">0.95820</text><rect x="1579" y="220" width="2" height="1"/><text x="1584" y="224" font-size="9.5px" fill="#000" stroke="#000" stroke-width="0.25" textLength="32.6" lengthAdjust="spacingAndGlyphs">0.95040</text><rect x="1579" y="253" width="2" height="1"/><text x="1584" y="257" font-size="9.5px" fill="#000" stroke="#000" stroke-width="0.25" textLength="32.6" lengthAdjust="spacingAndGlyphs">0.94280</text><rect x="1579" y="286" width="2" height="1"/><text x="1584" y="290" font-size="9.5px" fill="#000" stroke="#000" stroke-width="0.25" textLength="32.6" lengthAdjust="spacingAndGlyphs">0.93500</text><rect x="1579" y="319" width="2" height="1"/><text x="1584" y="323" font-size="9.5px" fill="#000" stroke="#000" stroke-width="0.25" textLength="32.6" lengthAdjust="spacingAndGlyphs">0.92740</text><rect x="1579" y="352" width="2" height="1"/><text x="1584" y="356" font-size="9.5px" fill="#000" stroke="#000" stroke-width="0.25" textLength="32.6" lengthAdjust="spacingAndGlyphs">0.91960</text><rect x="1579" y="385" width="2" height="1"/><text x="1584" y="389" font-size="9.5px" fill="#000" stroke="#000" stroke-width="0.25" textLength="32.6" lengthAdjust="spacingAndGlyphs">0.91200</text><rect x="1579" y="418" width="2" height="1"/><text x="1584" y="422" font-size="9.5px" fill="#000" stroke="#000" stroke-width="0.25" textLength="32.6" lengthAdjust="spacingAndGlyphs">0.90420</text><rect x="1579" y="451" width="2" height="1"/><text x="1584" y="455" font-size="9.5px" fill="#000" stroke="#000" stroke-width="0.25" textLength="32.6" lengthAdjust="spacingAndGlyphs">0.89660</text><rect x="1579" y="484" width="2" height="1"/><text x="1584" y="488" font-size="9.5px" fill="#000" stroke="#000" stroke-width="0.25" textLength="32.6" lengthAdjust="spacingAndGlyphs">0.88880</text><rect x="1579" y="517" width="2" height="1"/><text x="1584" y="521" font-size="9.5px" fill="#000" stroke="#000" stroke-width="0.25" textLength="32.6" lengthAdjust="spacingAndGlyphs">0.88100</text><rect x="1579" y="550" width="2" height="1"/><text x="1584" y="554" font-size="9.5px" fill="#000" stroke="#000" stroke-width="0.25" textLength="32.6" lengthAdjust="spacingAndGlyphs">0.87340</text><rect x="1580" y="231" width="40" height="11" fill="#ff0000"/><text x="1584" y="240" font-size="9.5px" fill="#fff" stroke="#fff" stroke-width="0.25" textLength="32.6" lengthAdjust="spacingAndGlyphs">0.94651</text><rect x="1580" y="302" width="40" height="11" fill="#ff0000"/><text x="1584" y="311" font-size="9.5px" fill="#fff" stroke="#fff" stroke-width="0.25" textLength="32.6" lengthAdjust="spacingAndGlyphs">0.93001</text><rect x="1580" y="357" width="40" height="11" fill="#00ff00"/><text x="1584" y="366" font-size="9.5px" fill="#fff" stroke="#fff" stroke-width="0.25" textLength="32.6" lengthAdjust="spacingAndGlyphs">0.91709</text><rect x="1580" y="428" width="40" height="11" fill="#0000ff"/><text x="1584" y="437" font-size="9.5px" fill="#fff" stroke="#fff" stroke-width="0.25" textLength="32.6" lengthAdjust="spacingAndGlyphs">0.90055</text><rect x="1580" y="486" width="40" height="11" fill="#0000ff"/><text x="1584" y="495" font-size="9.5px" fill="#fff" stroke="#fff" stroke-width="0.25" textLength="32.6" lengthAdjust="spacingAndGlyphs">0.88703</text><rect x="1580" y="537" width="40" height="11" fill="#0000ff"/><text x="1584" y="546" font-size="9.5px" fill="#fff" stroke="#fff" stroke-width="0.25" textLength="32.6" lengthAdjust="spacingAndGlyphs">0.87513</text><rect x="1580" y="320" width="40" height="11" fill="#000"/><text x="1584" y="329" font-size="9.5px" fill="#fff" stroke="#fff" stroke-width="0.25" textLength="32.6" lengthAdjust="spacingAndGlyphs">0.92598</text><rect x="1579" y="557" width="1" height="1"/><text x="1581" y="565" font-size="9.5px" fill="#000" stroke="#000" stroke-width="0.25" textLength="15.6" lengthAdjust="spacingAndGlyphs">100</text><rect x="1579" y="585" width="1" height="1"/><text x="1581" y="589" font-size="9.5px" fill="#000" stroke="#000" stroke-width="0.25" textLength="10.4" lengthAdjust="spacingAndGlyphs">70</text><rect x="1579" y="622" width="1" height="1"/><text x="1581" y="626" font-size="9.5px" fill="#000" stroke="#000" stroke-width="0.25" textLength="10.4" lengthAdjust="spacingAndGlyphs">30</text><rect x="1579" y="651" width="1" height="1"/><text x="1581" y="648" font-size="9.5px" fill="#000" stroke="#000" stroke-width="0.25" textLength="5.2" lengthAdjust="spacingAndGlyphs">0</text><rect x="1579" y="655" width="1" height="1"/><text x="1581" y="663" font-size="9.5px" fill="#000" stroke="#000" stroke-width="0.25" textLength="39.0" lengthAdjust="spacingAndGlyphs">0.010933</text><rect x="1579" y="704" width="2" height="1"/><text x="1582" y="708" font-size="9.5px" fill="#000" stroke="#000" stroke-width="0.25" textLength="18.2" lengthAdjust="spacingAndGlyphs">0.00</text><rect x="1579" y="748" width="1" height="1"/><text x="1581" y="746" font-size="9.5px" fill="#000" stroke="#000" stroke-width="0.25" textLength="42.2" lengthAdjust="spacingAndGlyphs">-0.009653</text></g><g font-family="Liberation Sans" font-size="9px" fill="#000"><rect x="2" y="750" width="1" height="3"/><text x="1.5" y="762" font-size="9.5px" fill="#000" stroke="#000" stroke-width="0.25" textLength="52.6" lengthAdjust="spacingAndGlyphs">14 Mar 2020</text><rect x="66" y="750" width="1" height="3"/><text x="65.5" y="762" font-size="9.5px" fill="#000" stroke="#000" stroke-width="0.25" textLength="45.3" lengthAdjust="spacingAndGlyphs">2 Apr 2020</text><rect x="130" y="750" width="1" height="3"/><text x="129.5" y="762" font-size="9.5px" fill="#000" stroke="#000" stroke-width="0.25" textLength="50.5" lengthAdjust="spacingAndGlyphs">21 Apr 2020</text><rect x="194" y="750" width="1" height="3"/><text x="193.5" y="762" font-size="9.5px" fill="#000" stroke="#000" stroke-width="0.25" textLength="48.9" lengthAdjust="spacingAndGlyphs">9 May 2020</text><rect x="258" y="750" width="1" height="3"/><text x="257.5" y="762" font-size="9.5px" fill="#000" stroke="#000" stroke-width="0.25" textLength="54.1" lengthAdjust="spacingAndGlyphs">28 May 2020</text><rect x="322" y="750" width="1" height="3"/><text x="321.5" y="762" font-size="9.5px" fill="#000" stroke="#000" stroke-width="0.25" textLength="51.5" lengthAdjust="spacingAndGlyphs">16 Jun 2020</text><rect x="386" y="750" width="1" height="3"/><text x="385.5" y="762" font-size="9.5px" fill="#000" stroke="#000" stroke-width="0.25" textLength="43.2" lengthAdjust="spacingAndGlyphs">4 Jul 2020</text><rect x="450" y="750" width="1" height="3"/><text x="449.5" y="762" font-size="9.5px" fill="#000" stroke="#000" stroke-width="0.25" textLength="48.4" lengthAdjust="spacingAndGlyphs">23 Jul 2020</text><rect x="514" y="750" width="1" height="3"/><text x="513.5" y="762" font-size="9.5px" fill="#000" stroke="#000" stroke-width="0.25" textLength="51.9" lengthAdjust="spacingAndGlyphs">11 Aug 2020</text><rect x="578" y="750" width="1" height="3"/><text x="577.5" y="762" font-size="9.5px" fill="#000" stroke="#000" stroke-width="0.25" textLength="52.6" lengthAdjust="spacingAndGlyphs">29 Aug 2020</text><rect x="642" y="750" width="1" height="3"/><text x="641.5" y="762" font-size="9.5px" fill="#000" stroke="#000" stroke-width="0.25" textLength="53.1" lengthAdjust="spacingAndGlyphs">17 Sep 2020</text><rect x="706" y="750" width="1" height="3"/><text x="705.5" y="762" font-size="9.5px" fill="#000" stroke="#000" stroke-width="0.25" textLength="45.8" lengthAdjust="spacingAndGlyphs">6 Oct 2020</text><rect x="770" y="750" width="1" height="3"/><text x="769.5" y="762" font-size="9.5px" fill="#000" stroke="#000" stroke-width="0.25" textLength="51.0" lengthAdjust="spacingAndGlyphs">24 Oct 2020</text><rect x="834" y="750" width="1" height="3"/><text x="833.5" y="762" font-size="9.5px" fill="#000" stroke="#000" stroke-width="0.25" textLength="53.1" lengthAdjust="spacingAndGlyphs">12 Nov 2020</text><rect x="898" y="750" width="1" height="3"/><text x="897.5" y="762" font-size="9.5px" fill="#000" stroke="#000" stroke-width="0.25" textLength="47.9" lengthAdjust="spacingAndGlyphs">1 Dec 2020</text><rect x="962" y="750" width="1" height="3"/><text x="961.5" y="762" font-size="9.5px" fill="#000" stroke="#000" stroke-width="0.25" textLength="53.1" lengthAdjust="spacingAndGlyphs">19 Dec 2020</text><rect x="1026" y="750" width="1" height="3"/><text x="1025.5" y="762" font-size="9.5px" fill="#000" stroke="#000" stroke-width="0.25" textLength="46.3" lengthAdjust="spacingAndGlyphs">9 Jan 2021</text><rect x="1090" y="750" width="1" height="3"/><text x="1089.5" y="762" font-size="9.5px" fill="#000" stroke="#000" stroke-width="0.25" textLength="51.5" lengthAdjust="spacingAndGlyphs">28 Jan 2021</text><rect x="1154" y="750" width="1" height="3"/><text x="1153.5" y="762" font-size="9.5px" fill="#000" stroke="#000" stroke-width="0.25" textLength="52.6" lengthAdjust="spacingAndGlyphs">16 Feb 2021</text><rect x="1218" y="750" width="1" height="3"/><text x="1217.5" y="762" font-size="9.5px" fill="#000" stroke="#000" stroke-width="0.25" textLength="47.3" lengthAdjust="spacingAndGlyphs">6 Mar 2021</text></g><g font-family="Liberation Sans" font-size="9.5px" fill="#000"><polygon points="5,33 12,33 8.5,37" fill="#000"/><text x="17.5" y="38" font-size="9.5px" fill="#000" stroke="#000" stroke-width="0.1" textLength="64.0" lengthAdjust="spacingAndGlyphs">USDCHF,Daily</text><text x="88" y="38" font-size="9.5px" fill="#000" stroke="#000" stroke-width="0.25" textLength="32.6" lengthAdjust="spacingAndGlyphs">0.92598</text><text x="124" y="38" font-size="9.5px" fill="#000" stroke="#000" stroke-width="0.25" textLength="32.6" lengthAdjust="spacingAndGlyphs">0.92640</text><text x="160" y="38" font-size="9.5px" fill="#000" stroke="#000" stroke-width="0.25" textLength="32.6" lengthAdjust="spacingAndGlyphs">0.92415</text><text x="196" y="38" font-size="9.5px" fill="#000" stroke="#000" stroke-width="0.25" textLength="32.6" lengthAdjust="spacingAndGlyphs">0.92598</text><text x="6.5" y="568" font-size="9.5px" fill="#000" stroke="#000" stroke-width="0.25" textLength="67.0" lengthAdjust="spacingAndGlyphs">RSI(14) 61.8781</text><text x="6" y="666" font-size="9.5px" fill="#000" stroke="#000" stroke-width="0.25" textLength="147.0" lengthAdjust="spacingAndGlyphs">MACD(12,26,9) 0.007614 0.009118</text></g><defs><pattern id="dith" x="0" y="0" width="2" height="2" patternUnits="userSpaceOnUse"><rect width="2" height="2" fill="#f0f0f0"/><rect width="1" height="1" fill="#fff"/><rect x="1" y="1" width="1" height="1" fill="#fff"/></pattern></defs><g shape-rendering="crispEdges"><rect x="204" y="0" width="1" height="20" fill="#a0a0a0"/><rect x="205" y="0" width="24" height="20" fill="url(#dith)"/><rect x="229" y="0" width="1" height="21" fill="#fff"/><rect x="204" y="20" width="26" height="1" fill="#fff"/></g><g font-family="Liberation Sans" font-size="9.5px" fill="#333"><text x="41.8" y="13.8" font-size="9.8px" fill="#333" textLength="12.3" lengthAdjust="spacingAndGlyphs">M1</text><text x="69.4" y="13.8" font-size="9.8px" fill="#333" textLength="12.6" lengthAdjust="spacingAndGlyphs">M5</text><text x="95.6" y="13.8" font-size="9.8px" fill="#333" textLength="17.4" lengthAdjust="spacingAndGlyphs">M15</text><text x="123.6" y="13.8" font-size="9.8px" fill="#333" textLength="17.4" lengthAdjust="spacingAndGlyphs">M30</text><text x="154.6" y="13.8" font-size="9.8px" fill="#333" textLength="11.6" lengthAdjust="spacingAndGlyphs">H1</text><text x="181.5" y="13.8" font-size="9.8px" fill="#333" textLength="12.3" lengthAdjust="spacingAndGlyphs">H4</text><text x="210.6" y="13.8" font-size="9.8px" fill="#333" textLength="11.4" lengthAdjust="spacingAndGlyphs">D1</text><text x="238.3" y="13.8" font-size="9.8px" fill="#333" textLength="13.7" lengthAdjust="spacingAndGlyphs">W1</text><text x="264.6" y="13.8" font-size="9.8px" fill="#333" textLength="14.7" lengthAdjust="spacingAndGlyphs">MN</text></g><rect x="26" y="0" width="1" height="21" fill="#a0a0a0"/><rect x="27" y="0" width="1" height="21" fill="#fff"/><rect x="30" y="0" width="3" height="1" fill="#909090"/><rect x="30" y="2" width="3" height="1" fill="#909090"/><rect x="30" y="4" width="3" height="1" fill="#909090"/><rect x="30" y="6" width="3" height="1" fill="#909090"/><rect x="30" y="8" width="3" height="1" fill="#909090"/><rect x="30" y="10" width="3" height="1" fill="#909090"/><rect x="30" y="12" width="3" height="1" fill="#909090"/><rect x="30" y="14" width="3" height="1" fill="#909090"/><rect x="30" y="16" width="3" height="1" fill="#909090"/><rect x="30" y="18" width="3" height="1" fill="#909090"/><rect x="287" y="0" width="1" height="21" fill="#a0a0a0"/><polygon points="15,9 20,9 17.5,12" fill="#000"/><path d="M0,8 Q3,9 2,11" stroke="#444" stroke-width="1.5" fill="none"/><polygon points="1,13 8,13 4.5,17" fill="#444"/><rect x="0" y="770" width="1620" height="28" fill="#f0f0f0"/><rect x="0" y="770" width="1620" height="1" fill="#e3e3e3"/><rect x="0" y="772" width="1620" height="1" fill="#000"/><rect x="107" y="772" width="100" height="19" fill="#fff"/><rect x="107" y="772" width="1" height="19" fill="#000"/><rect x="206" y="772" width="1" height="19" fill="#000"/><rect x="107" y="790" width="100" height="1" fill="#000"/><rect x="0" y="791" width="1620" height="1" fill="#f9f9f9"/><rect x="0" y="796" width="1620" height="1" fill="#a0a0a0"/><rect x="0" y="797" width="1620" height="1" fill="#fbfbfb"/><rect x="311" y="775" width="1" height="14" fill="#7a7a7a"/><rect x="415" y="775" width="1" height="14" fill="#7a7a7a"/><rect x="519" y="775" width="1" height="14" fill="#7a7a7a"/><rect x="623" y="775" width="1" height="14" fill="#7a7a7a"/><rect x="716" y="775" width="1" height="14" fill="#7a7a7a"/><rect x="807" y="775" width="1" height="14" fill="#7a7a7a"/><rect x="879" y="775" width="1" height="14" fill="#7a7a7a"/><rect x="959" y="775" width="1" height="14" fill="#7a7a7a"/><rect x="1039" y="775" width="1" height="14" fill="#7a7a7a"/><rect x="1119" y="775" width="1" height="14" fill="#7a7a7a"/><rect x="1195" y="775" width="1" height="14" fill="#7a7a7a"/><rect x="1279" y="775" width="1" height="14" fill="#7a7a7a"/><rect x="1363" y="775" width="1" height="14" fill="#7a7a7a"/><rect x="1443" y="775" width="1" height="14" fill="#7a7a7a"/><rect x="1543" y="775" width="1" height="14" fill="#7a7a7a"/><polygon points="1597,777.5 1597,784.5 1593.5,781" fill="#a8a8a8"/><polygon points="1612.5,777 1612.5,785 1616.5,781" fill="#000"/><g font-family="Liberation Sans" font-size="12px"><text x="15" y="787" fill="#6d6d6d">EURUSD,Daily</text><text x="117" y="787" fill="#000">USDCHF,Daily</text><text x="218" y="787" fill="#6d6d6d">AUDUSD,Daily</text><text x="323" y="787" fill="#6d6d6d">USDCAD,Daily</text><text x="425" y="787" fill="#6d6d6d">USDCNH,Daily</text><text x="530" y="787" fill="#6d6d6d">EURUSD,Daily</text><text x="635" y="787" fill="#6d6d6d">GBPUSD,H4</text><text x="726" y="787" fill="#6d6d6d">XAUUSD,H4</text><text x="818" y="787" fill="#6d6d6d">HK50,H1</text><text x="889" y="787" fill="#6d6d6d">UK100,H1</text><text x="969" y="787" fill="#6d6d6d">UK100,H1</text><text x="1050" y="787" fill="#6d6d6d">GER30,H1</text><text x="1129" y="787" fill="#6d6d6d">FRA40,H1</text><text x="1205" y="787" fill="#6d6d6d">USOil,Daily</text><text x="1289" y="787" fill="#6d6d6d">USDJPY,H1</text><text x="1373" y="787" fill="#6d6d6d">DJ30,Daily</text><text x="1453" y="787" fill="#6d6d6d">CHINA300,H1</text><text x="1553" y="787" fill="#6d6d6d">USOil,</text></g></svg></body></html>
